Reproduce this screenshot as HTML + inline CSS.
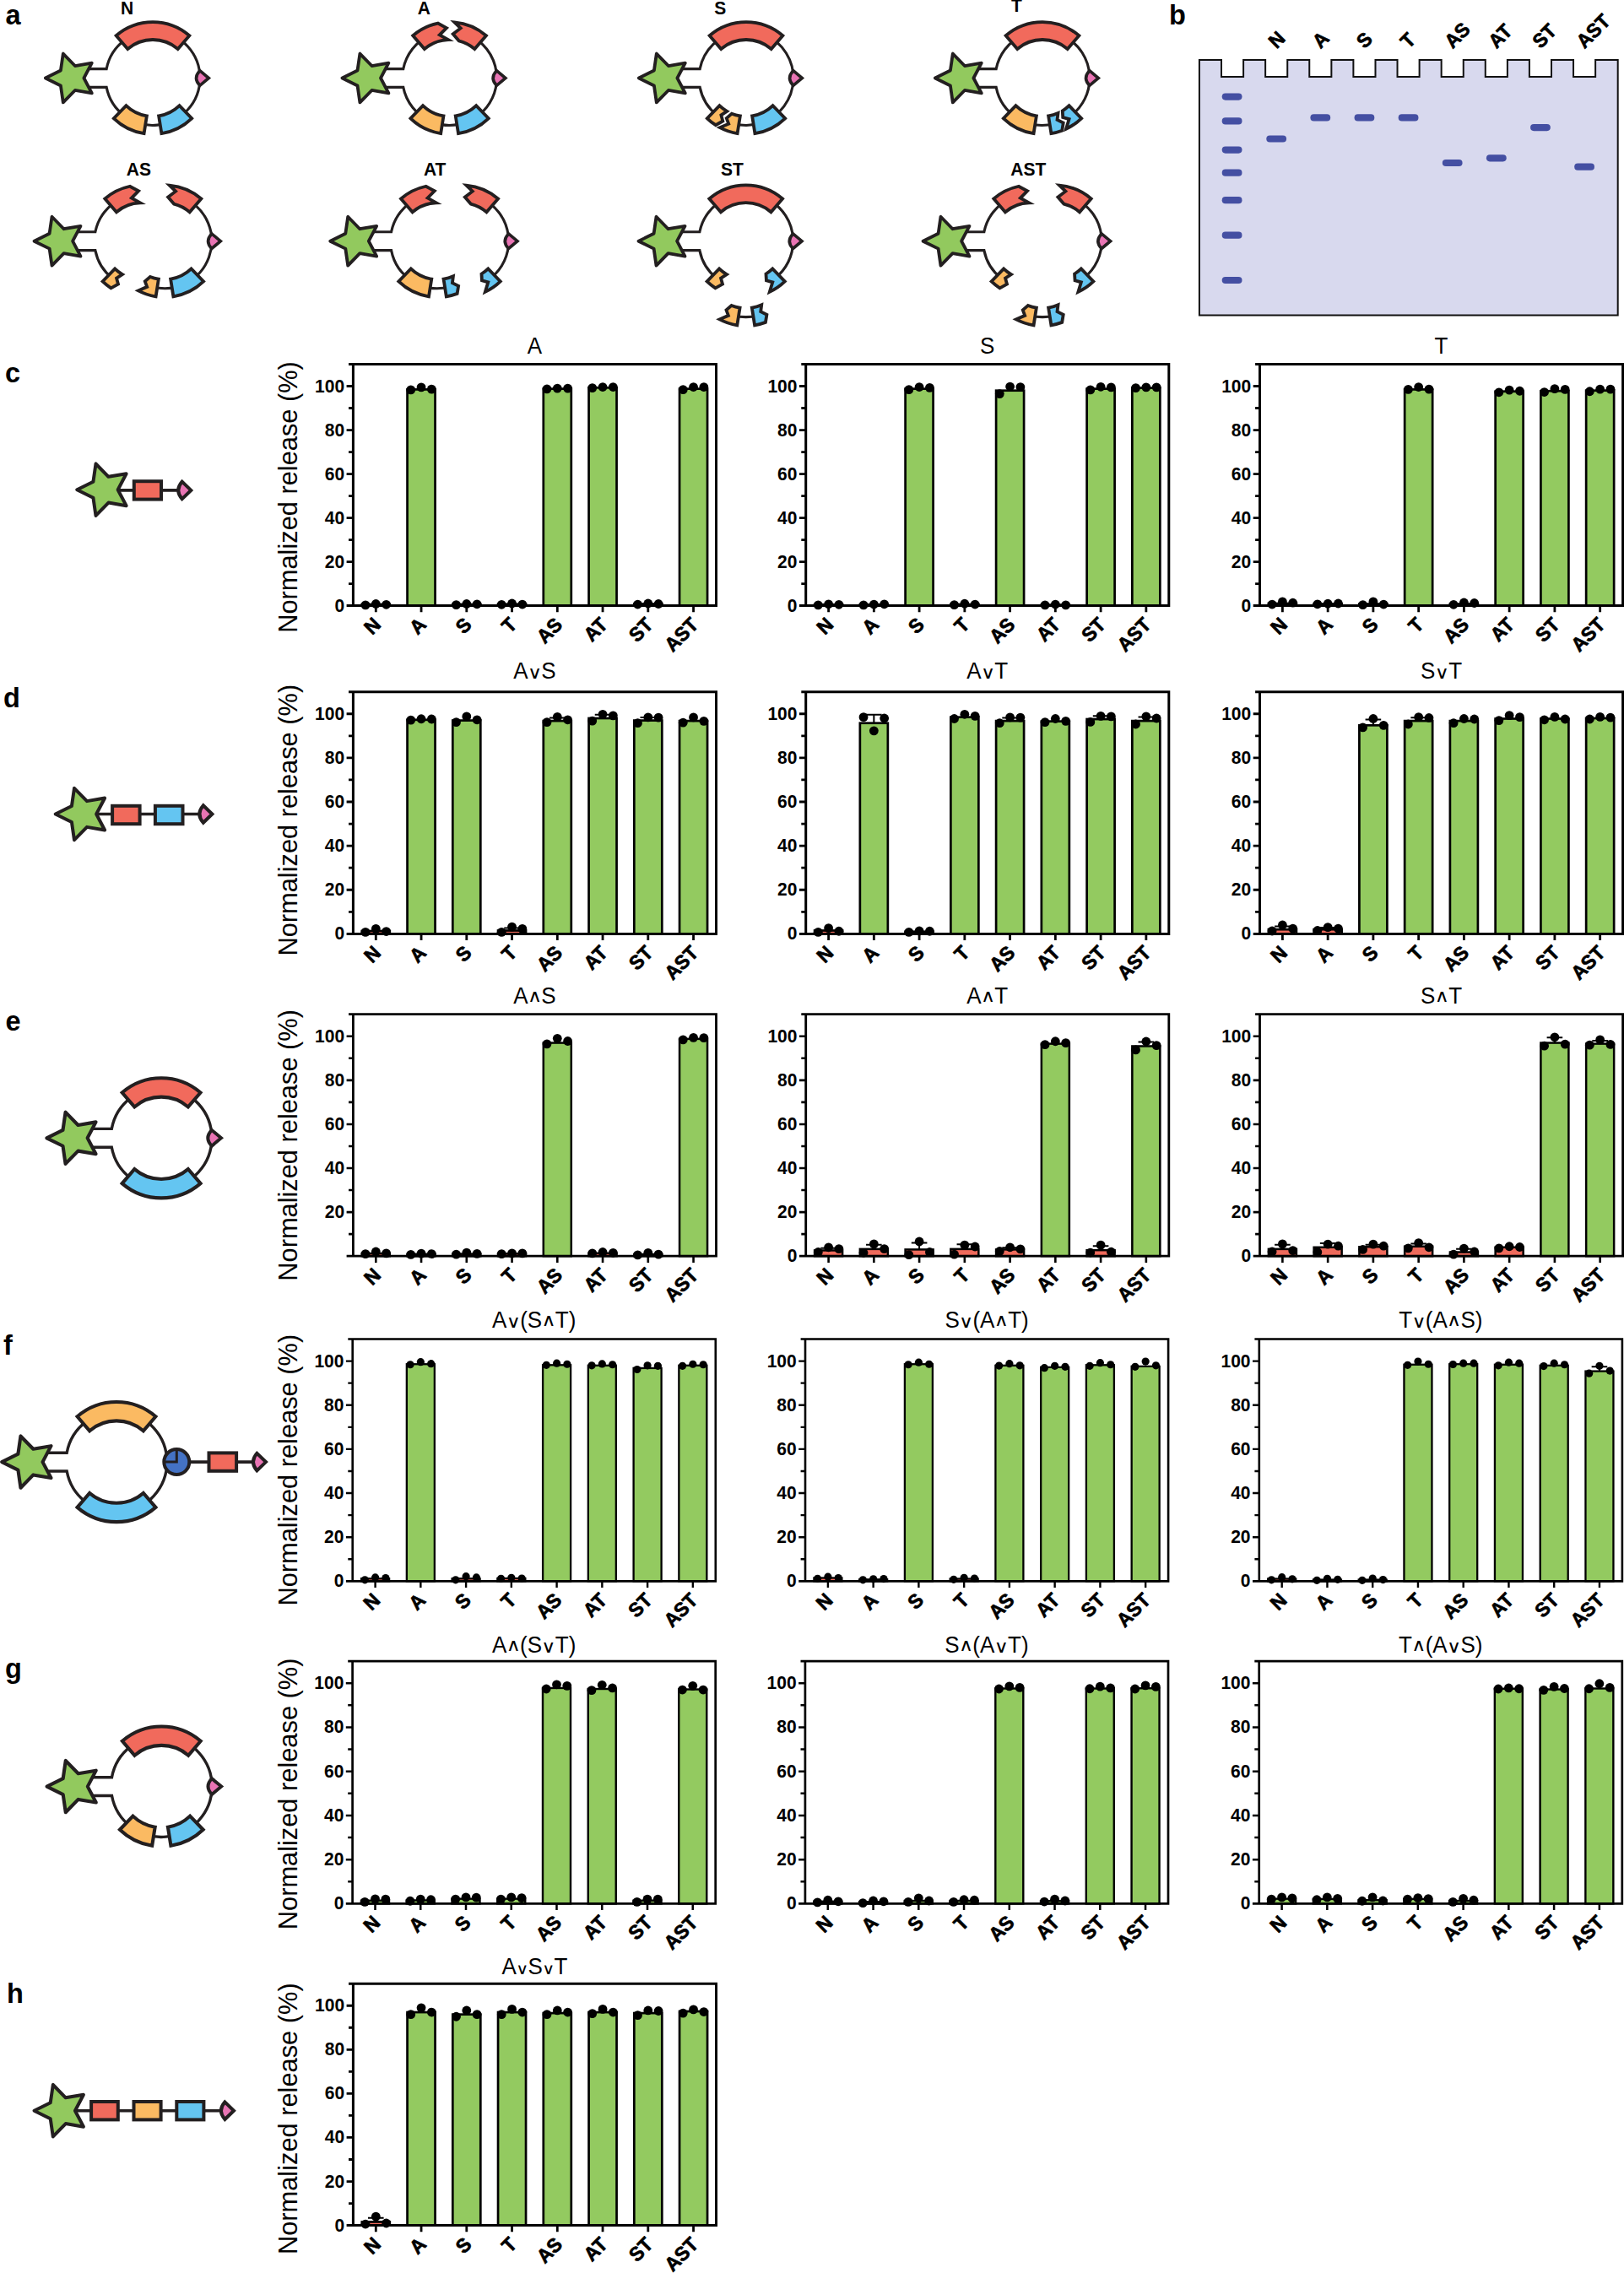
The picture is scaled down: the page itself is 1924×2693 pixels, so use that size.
<!DOCTYPE html>
<html lang="en"><head><meta charset="utf-8"><title>Figure</title>
<style>html,body{margin:0;padding:0;background:#fff}svg{display:block}</style></head>
<body>
<svg width="1924" height="2693" viewBox="0 0 1924 2693" font-family="Liberation Sans, Arial, Helvetica, sans-serif" fill="#000">
<path d="M105 81.6L126.17 81.6A55.9 55.9 0 0 1 236.9 92.5A55.9 55.9 0 0 1 126.17 103.4L105 103.4" fill="none" stroke="#231F20" stroke-width="3.1" stroke-linejoin="miter"/>
<path d="M137.61 42.24A66.4 66.4 0 0 1 224.39 42.24L210.73 58.06A45.5 45.5 0 0 0 151.27 58.06Z" fill="#F16A5C" stroke="#231F20" stroke-width="3.8" stroke-linejoin="miter" stroke-miterlimit="6"/>
<path d="M170.61 158.08A66.4 66.4 0 0 1 134.87 140.26L149.39 125.23A45.5 45.5 0 0 0 173.88 137.44Z" fill="#FBBA62" stroke="#231F20" stroke-width="3.8" stroke-linejoin="miter" stroke-miterlimit="6"/>
<path d="M227.13 140.26A66.4 66.4 0 0 1 191.39 158.08L188.12 137.44A45.5 45.5 0 0 0 212.61 125.23Z" fill="#64C5F1" stroke="#231F20" stroke-width="3.8" stroke-linejoin="miter" stroke-miterlimit="6"/>
<path d="M236.8 83.7Q228.4 92.5 236.8 101.3L247.3 92.5Z" fill="#E974B4" stroke="#231F20" stroke-width="3.61" stroke-linejoin="miter"/>
<polygon points="53.8,92.5 71.9,101.43 74.81,121.41 88.9,106.96 108.79,110.37 99.4,92.5 108.79,74.63 88.9,78.04 74.81,63.59 71.9,83.57" fill="#92C95E" stroke="#231F20" stroke-width="3.8" stroke-linejoin="round"/>
<path d="M456.6 81.6L477.77 81.6A55.9 55.9 0 0 1 508.98 41.84" fill="none" stroke="#231F20" stroke-width="3.1" stroke-linejoin="miter"/>
<path d="M556.22 41.84A55.9 55.9 0 0 1 567.11 136.48A55.9 55.9 0 0 1 477.77 103.4L456.6 103.4" fill="none" stroke="#231F20" stroke-width="3.1" stroke-linejoin="miter"/>
<path d="M489.21 42.24A66.4 66.4 0 0 1 518.79 27.55L528.97 33.11L520.79 41.35L531.01 47.03A45.5 45.5 0 0 0 502.87 58.06Z" fill="#F16A5C" stroke="#231F20" stroke-width="3.8" stroke-linejoin="miter" stroke-miterlimit="6"/>
<path d="M575.99 42.24A66.4 66.4 0 0 0 538.39 26.35L545.69 33.43L536.7 40.36L543.61 48.35A45.5 45.5 0 0 1 562.33 58.06Z" fill="#F16A5C" stroke="#231F20" stroke-width="3.8" stroke-linejoin="miter" stroke-miterlimit="6"/>
<path d="M522.21 158.08A66.4 66.4 0 0 1 486.47 140.26L500.99 125.23A45.5 45.5 0 0 0 525.48 137.44Z" fill="#FBBA62" stroke="#231F20" stroke-width="3.8" stroke-linejoin="miter" stroke-miterlimit="6"/>
<path d="M578.73 140.26A66.4 66.4 0 0 1 542.99 158.08L539.72 137.44A45.5 45.5 0 0 0 564.21 125.23Z" fill="#64C5F1" stroke="#231F20" stroke-width="3.8" stroke-linejoin="miter" stroke-miterlimit="6"/>
<path d="M588.4 83.7Q580 92.5 588.4 101.3L598.9 92.5Z" fill="#E974B4" stroke="#231F20" stroke-width="3.61" stroke-linejoin="miter"/>
<polygon points="405.4,92.5 423.5,101.43 426.41,121.41 440.5,106.96 460.39,110.37 451,92.5 460.39,74.63 440.5,78.04 426.41,63.59 423.5,83.57" fill="#92C95E" stroke="#231F20" stroke-width="3.8" stroke-linejoin="round"/>
<path d="M808 81.6L829.17 81.6A55.9 55.9 0 0 1 931.47 62.98A55.9 55.9 0 0 1 869.53 146.5" fill="none" stroke="#231F20" stroke-width="3.1" stroke-linejoin="miter"/>
<path d="M849.58 136.55A55.9 55.9 0 0 1 829.17 103.4L808 103.4" fill="none" stroke="#231F20" stroke-width="3.1" stroke-linejoin="miter"/>
<path d="M840.61 42.24A66.4 66.4 0 0 1 927.39 42.24L913.73 58.06A45.5 45.5 0 0 0 854.27 58.06Z" fill="#F16A5C" stroke="#231F20" stroke-width="3.8" stroke-linejoin="miter" stroke-miterlimit="6"/>
<path d="M837.87 140.26A66.4 66.4 0 0 0 847.84 148.19L856.32 143.47L854.36 136.44L861.25 131.9A45.5 45.5 0 0 1 852.39 125.23Z" fill="#FBBA62" stroke="#231F20" stroke-width="3.8" stroke-linejoin="miter" stroke-miterlimit="6"/>
<path d="M873.61 158.08A66.4 66.4 0 0 1 852.83 151.13L863.21 146.65L860.77 140.14L866.96 134.69A45.5 45.5 0 0 0 876.88 137.44Z" fill="#FBBA62" stroke="#231F20" stroke-width="3.8" stroke-linejoin="miter" stroke-miterlimit="6"/>
<path d="M930.13 140.26A66.4 66.4 0 0 1 894.39 158.08L891.12 137.44A45.5 45.5 0 0 0 915.61 125.23Z" fill="#64C5F1" stroke="#231F20" stroke-width="3.8" stroke-linejoin="miter" stroke-miterlimit="6"/>
<path d="M939.8 83.7Q931.4 92.5 939.8 101.3L950.3 92.5Z" fill="#E974B4" stroke="#231F20" stroke-width="3.61" stroke-linejoin="miter"/>
<polygon points="756.8,92.5 774.9,101.43 777.81,121.41 791.9,106.96 811.79,110.37 802.4,92.5 811.79,74.63 791.9,78.04 777.81,63.59 774.9,83.57" fill="#92C95E" stroke="#231F20" stroke-width="3.8" stroke-linejoin="round"/>
<path d="M1159 81.6L1180.17 81.6A55.9 55.9 0 0 1 1264.31 44.9A55.9 55.9 0 0 1 1269.42 136.55" fill="none" stroke="#231F20" stroke-width="3.1" stroke-linejoin="miter"/>
<path d="M1249.47 146.5A55.9 55.9 0 0 1 1180.17 103.4L1159 103.4" fill="none" stroke="#231F20" stroke-width="3.1" stroke-linejoin="miter"/>
<path d="M1191.61 42.24A66.4 66.4 0 0 1 1278.39 42.24L1264.73 58.06A45.5 45.5 0 0 0 1205.27 58.06Z" fill="#F16A5C" stroke="#231F20" stroke-width="3.8" stroke-linejoin="miter" stroke-miterlimit="6"/>
<path d="M1224.61 158.08A66.4 66.4 0 0 1 1188.87 140.26L1203.39 125.23A45.5 45.5 0 0 0 1227.88 137.44Z" fill="#FBBA62" stroke="#231F20" stroke-width="3.8" stroke-linejoin="miter" stroke-miterlimit="6"/>
<path d="M1245.39 158.08A66.4 66.4 0 0 0 1258.25 154.7L1259.72 145.52L1252.52 141.99L1253.51 134.07A45.5 45.5 0 0 1 1242.12 137.44Z" fill="#64C5F1" stroke="#231F20" stroke-width="3.8" stroke-linejoin="miter" stroke-miterlimit="6"/>
<path d="M1281.13 140.26A66.4 66.4 0 0 1 1263.06 152.68L1266.59 141.14L1259.24 139.07L1258.77 131.3A45.5 45.5 0 0 0 1266.61 125.23Z" fill="#64C5F1" stroke="#231F20" stroke-width="3.8" stroke-linejoin="miter" stroke-miterlimit="6"/>
<path d="M1290.8 83.7Q1282.4 92.5 1290.8 101.3L1301.3 92.5Z" fill="#E974B4" stroke="#231F20" stroke-width="3.61" stroke-linejoin="miter"/>
<polygon points="1107.8,92.5 1125.9,101.43 1128.81,121.41 1142.9,106.96 1162.79,110.37 1153.4,92.5 1162.79,74.63 1142.9,78.04 1128.81,63.59 1125.9,83.57" fill="#92C95E" stroke="#231F20" stroke-width="3.8" stroke-linejoin="round"/>
<path d="M91.7 274.8L112.87 274.8A55.9 55.9 0 0 1 144.08 235.04" fill="none" stroke="#231F20" stroke-width="3.1" stroke-linejoin="miter"/>
<path d="M218.62 235.04A55.9 55.9 0 0 1 180.53 339.7" fill="none" stroke="#231F20" stroke-width="3.1" stroke-linejoin="miter"/>
<path d="M133.28 329.75A55.9 55.9 0 0 1 112.87 296.6L91.7 296.6" fill="none" stroke="#231F20" stroke-width="3.1" stroke-linejoin="miter"/>
<path d="M124.31 235.44A66.4 66.4 0 0 1 153.89 220.75L164.07 226.31L155.89 234.55L166.11 240.23A45.5 45.5 0 0 0 137.97 251.26Z" fill="#F16A5C" stroke="#231F20" stroke-width="3.8" stroke-linejoin="miter" stroke-miterlimit="6"/>
<path d="M238.39 235.44A66.4 66.4 0 0 0 200.79 219.55L208.09 226.63L199.1 233.56L206.01 241.55A45.5 45.5 0 0 1 224.73 251.26Z" fill="#F16A5C" stroke="#231F20" stroke-width="3.8" stroke-linejoin="miter" stroke-miterlimit="6"/>
<path d="M121.57 333.46A66.4 66.4 0 0 0 131.54 341.39L140.02 336.67L138.06 329.64L144.95 325.1A45.5 45.5 0 0 1 136.09 318.43Z" fill="#FBBA62" stroke="#231F20" stroke-width="3.8" stroke-linejoin="miter" stroke-miterlimit="6"/>
<path d="M184.61 351.28A66.4 66.4 0 0 1 163.83 344.33L174.21 339.85L171.77 333.34L177.96 327.89A45.5 45.5 0 0 0 187.88 330.64Z" fill="#FBBA62" stroke="#231F20" stroke-width="3.8" stroke-linejoin="miter" stroke-miterlimit="6"/>
<path d="M241.13 333.46A66.4 66.4 0 0 1 205.39 351.28L202.12 330.64A45.5 45.5 0 0 0 226.61 318.43Z" fill="#64C5F1" stroke="#231F20" stroke-width="3.8" stroke-linejoin="miter" stroke-miterlimit="6"/>
<path d="M250.8 276.9Q242.4 285.7 250.8 294.5L261.3 285.7Z" fill="#E974B4" stroke="#231F20" stroke-width="3.61" stroke-linejoin="miter"/>
<polygon points="40.5,285.7 58.6,294.63 61.51,314.61 75.6,300.16 95.49,303.57 86.1,285.7 95.49,267.83 75.6,271.24 61.51,256.79 58.6,276.77" fill="#92C95E" stroke="#231F20" stroke-width="3.8" stroke-linejoin="round"/>
<path d="M442.4 274.8L463.57 274.8A55.9 55.9 0 0 1 494.78 235.04" fill="none" stroke="#231F20" stroke-width="3.1" stroke-linejoin="miter"/>
<path d="M570.32 235.04A55.9 55.9 0 0 1 581.12 329.75" fill="none" stroke="#231F20" stroke-width="3.1" stroke-linejoin="miter"/>
<path d="M532.87 339.7A55.9 55.9 0 0 1 463.57 296.6L442.4 296.6" fill="none" stroke="#231F20" stroke-width="3.1" stroke-linejoin="miter"/>
<path d="M475.01 235.44A66.4 66.4 0 0 1 504.59 220.75L514.77 226.31L506.59 234.55L516.81 240.23A45.5 45.5 0 0 0 488.67 251.26Z" fill="#F16A5C" stroke="#231F20" stroke-width="3.8" stroke-linejoin="miter" stroke-miterlimit="6"/>
<path d="M590.09 235.44A66.4 66.4 0 0 0 552.49 219.55L559.79 226.63L550.8 233.56L557.71 241.55A45.5 45.5 0 0 1 576.43 251.26Z" fill="#F16A5C" stroke="#231F20" stroke-width="3.8" stroke-linejoin="miter" stroke-miterlimit="6"/>
<path d="M508.01 351.28A66.4 66.4 0 0 1 472.27 333.46L486.79 318.43A45.5 45.5 0 0 0 511.28 330.64Z" fill="#FBBA62" stroke="#231F20" stroke-width="3.8" stroke-linejoin="miter" stroke-miterlimit="6"/>
<path d="M528.79 351.28A66.4 66.4 0 0 0 541.65 347.9L543.12 338.72L535.92 335.19L536.91 327.27A45.5 45.5 0 0 1 525.52 330.64Z" fill="#64C5F1" stroke="#231F20" stroke-width="3.8" stroke-linejoin="miter" stroke-miterlimit="6"/>
<path d="M592.83 333.46A66.4 66.4 0 0 1 574.76 345.88L578.29 334.34L570.94 332.27L570.47 324.5A45.5 45.5 0 0 0 578.31 318.43Z" fill="#64C5F1" stroke="#231F20" stroke-width="3.8" stroke-linejoin="miter" stroke-miterlimit="6"/>
<path d="M602.5 276.9Q594.1 285.7 602.5 294.5L613 285.7Z" fill="#E974B4" stroke="#231F20" stroke-width="3.61" stroke-linejoin="miter"/>
<polygon points="391.2,285.7 409.3,294.63 412.21,314.61 426.3,300.16 446.19,303.57 436.8,285.7 446.19,267.83 426.3,271.24 412.21,256.79 409.3,276.77" fill="#92C95E" stroke="#231F20" stroke-width="3.8" stroke-linejoin="round"/>
<path d="M807.7 274.8L828.87 274.8A55.9 55.9 0 0 1 913.01 238.1A55.9 55.9 0 0 1 918.12 329.75" fill="none" stroke="#231F20" stroke-width="3.1" stroke-linejoin="miter"/>
<path d="M849.28 329.75A55.9 55.9 0 0 1 828.87 296.6L807.7 296.6" fill="none" stroke="#231F20" stroke-width="3.1" stroke-linejoin="miter"/>
<path d="M898.17 373.7A55.9 55.9 0 0 1 869.23 373.7" fill="none" stroke="#231F20" stroke-width="3.1" stroke-linejoin="miter"/>
<path d="M840.31 235.44A66.4 66.4 0 0 1 927.09 235.44L913.43 251.26A45.5 45.5 0 0 0 853.97 251.26Z" fill="#F16A5C" stroke="#231F20" stroke-width="3.8" stroke-linejoin="miter" stroke-miterlimit="6"/>
<path d="M837.57 333.46A66.4 66.4 0 0 0 847.54 341.39L856.02 336.67L854.06 329.64L860.95 325.1A45.5 45.5 0 0 1 852.09 318.43Z" fill="#FBBA62" stroke="#231F20" stroke-width="3.8" stroke-linejoin="miter" stroke-miterlimit="6"/>
<path d="M929.83 333.46A66.4 66.4 0 0 1 911.76 345.88L915.29 334.34L907.94 332.27L907.47 324.5A45.5 45.5 0 0 0 915.31 318.43Z" fill="#64C5F1" stroke="#231F20" stroke-width="3.8" stroke-linejoin="miter" stroke-miterlimit="6"/>
<path d="M873.31 385.28A66.4 66.4 0 0 1 852.53 378.33L862.91 373.85L860.47 367.34L866.66 361.89A45.5 45.5 0 0 0 876.58 364.64Z" fill="#FBBA62" stroke="#231F20" stroke-width="3.8" stroke-linejoin="miter" stroke-miterlimit="6"/>
<path d="M894.09 385.28A66.4 66.4 0 0 0 906.95 381.9L908.42 372.72L901.22 369.19L902.21 361.27A45.5 45.5 0 0 1 890.82 364.64Z" fill="#64C5F1" stroke="#231F20" stroke-width="3.8" stroke-linejoin="miter" stroke-miterlimit="6"/>
<path d="M939.5 276.9Q931.1 285.7 939.5 294.5L950 285.7Z" fill="#E974B4" stroke="#231F20" stroke-width="3.61" stroke-linejoin="miter"/>
<polygon points="756.5,285.7 774.6,294.63 777.51,314.61 791.6,300.16 811.49,303.57 802.1,285.7 811.49,267.83 791.6,271.24 777.51,256.79 774.6,276.77" fill="#92C95E" stroke="#231F20" stroke-width="3.8" stroke-linejoin="round"/>
<path d="M1144.7 274.8L1165.87 274.8A55.9 55.9 0 0 1 1197.08 235.04" fill="none" stroke="#231F20" stroke-width="3.1" stroke-linejoin="miter"/>
<path d="M1272.92 235.04A55.9 55.9 0 0 1 1283.72 329.75" fill="none" stroke="#231F20" stroke-width="3.1" stroke-linejoin="miter"/>
<path d="M1186.28 329.75A55.9 55.9 0 0 1 1165.87 296.6L1144.7 296.6" fill="none" stroke="#231F20" stroke-width="3.1" stroke-linejoin="miter"/>
<path d="M1249.47 373.7A55.9 55.9 0 0 1 1220.53 373.7" fill="none" stroke="#231F20" stroke-width="3.1" stroke-linejoin="miter"/>
<path d="M1177.31 235.44A66.4 66.4 0 0 1 1206.89 220.75L1217.07 226.31L1208.89 234.55L1219.11 240.23A45.5 45.5 0 0 0 1190.97 251.26Z" fill="#F16A5C" stroke="#231F20" stroke-width="3.8" stroke-linejoin="miter" stroke-miterlimit="6"/>
<path d="M1292.69 235.44A66.4 66.4 0 0 0 1255.09 219.55L1262.39 226.63L1253.4 233.56L1260.31 241.55A45.5 45.5 0 0 1 1279.03 251.26Z" fill="#F16A5C" stroke="#231F20" stroke-width="3.8" stroke-linejoin="miter" stroke-miterlimit="6"/>
<path d="M1174.57 333.46A66.4 66.4 0 0 0 1184.54 341.39L1193.02 336.67L1191.06 329.64L1197.95 325.1A45.5 45.5 0 0 1 1189.09 318.43Z" fill="#FBBA62" stroke="#231F20" stroke-width="3.8" stroke-linejoin="miter" stroke-miterlimit="6"/>
<path d="M1295.43 333.46A66.4 66.4 0 0 1 1277.36 345.88L1280.89 334.34L1273.54 332.27L1273.07 324.5A45.5 45.5 0 0 0 1280.91 318.43Z" fill="#64C5F1" stroke="#231F20" stroke-width="3.8" stroke-linejoin="miter" stroke-miterlimit="6"/>
<path d="M1224.61 385.28A66.4 66.4 0 0 1 1203.83 378.33L1214.21 373.85L1211.77 367.34L1217.96 361.89A45.5 45.5 0 0 0 1227.88 364.64Z" fill="#FBBA62" stroke="#231F20" stroke-width="3.8" stroke-linejoin="miter" stroke-miterlimit="6"/>
<path d="M1245.39 385.28A66.4 66.4 0 0 0 1258.25 381.9L1259.72 372.72L1252.52 369.19L1253.51 361.27A45.5 45.5 0 0 1 1242.12 364.64Z" fill="#64C5F1" stroke="#231F20" stroke-width="3.8" stroke-linejoin="miter" stroke-miterlimit="6"/>
<path d="M1305.1 276.9Q1296.7 285.7 1305.1 294.5L1315.6 285.7Z" fill="#E974B4" stroke="#231F20" stroke-width="3.61" stroke-linejoin="miter"/>
<polygon points="1093.5,285.7 1111.6,294.63 1114.51,314.61 1128.6,300.16 1148.49,303.57 1139.1,285.7 1148.49,267.83 1128.6,271.24 1114.51,256.79 1111.6,276.77" fill="#92C95E" stroke="#231F20" stroke-width="3.8" stroke-linejoin="round"/>
<text font-size="21" font-weight="bold" text-anchor="middle" transform="translate(150.7 16.5) scale(1 1.04)">N</text>
<text font-size="21" font-weight="bold" text-anchor="middle" transform="translate(502.3 16.5) scale(1 1.04)">A</text>
<text font-size="21" font-weight="bold" text-anchor="middle" transform="translate(853.3 16.5) scale(1 1.04)">S</text>
<text font-size="21" font-weight="bold" text-anchor="middle" transform="translate(1204.4 14.2) scale(1 1.04)">T</text>
<text font-size="21" font-weight="bold" text-anchor="middle" transform="translate(164.4 207.6) scale(1 1.04)">AS</text>
<text font-size="21" font-weight="bold" text-anchor="middle" transform="translate(515.2 207.6) scale(1 1.04)">AT</text>
<text font-size="21" font-weight="bold" text-anchor="middle" transform="translate(867.4 207.6) scale(1 1.04)">ST</text>
<text font-size="21" font-weight="bold" text-anchor="middle" transform="translate(1218.3 207.8) scale(1 1.04)">AST</text>
<text font-size="32.5" font-weight="bold" text-anchor="start" transform="translate(6.5 29.2) scale(1 1.04)">a</text>
<text font-size="32.5" font-weight="bold" text-anchor="start" transform="translate(1385 28.5) scale(1 1.04)">b</text>
<text font-size="32.5" font-weight="bold" text-anchor="start" transform="translate(6 453.2) scale(1 1.04)">c</text>
<text font-size="32.5" font-weight="bold" text-anchor="start" transform="translate(4 837.6) scale(1 1.04)">d</text>
<text font-size="32.5" font-weight="bold" text-anchor="start" transform="translate(6.5 1220.9) scale(1 1.04)">e</text>
<text font-size="32.5" font-weight="bold" text-anchor="start" transform="translate(4 1605) scale(1 1.04)">f</text>
<text font-size="32.5" font-weight="bold" text-anchor="start" transform="translate(6 1987.6) scale(1 1.04)">g</text>
<text font-size="32.5" font-weight="bold" text-anchor="start" transform="translate(8 2372.7) scale(1 1.04)">h</text>
<path d="M1420.9 71H1447V91.1H1473.1V71H1499.13V91.1H1525.23V71H1551.26V91.1H1577.36V71H1603.39V91.1H1629.49V71H1655.52V91.1H1681.62V71H1707.65V91.1H1733.75V71H1759.78V91.1H1785.88V71H1811.91V91.1H1838.01V71H1864.04V91.1H1890.14V71H1916.7V373.5H1420.9Z" fill="#D8D9EE" stroke="#111" stroke-width="2" stroke-linejoin="miter"/>
<rect x="1447.7" y="110.5" width="23.8" height="8.2" rx="4.1" fill="#444FA2"/>
<rect x="1447.7" y="139.3" width="23.8" height="8.2" rx="4.1" fill="#444FA2"/>
<rect x="1447.7" y="173.5" width="23.8" height="8.2" rx="4.1" fill="#444FA2"/>
<rect x="1447.7" y="200.6" width="23.8" height="8.2" rx="4.1" fill="#444FA2"/>
<rect x="1447.7" y="233.1" width="23.8" height="8.2" rx="4.1" fill="#444FA2"/>
<rect x="1447.7" y="274.6" width="23.8" height="8.2" rx="4.1" fill="#444FA2"/>
<rect x="1447.7" y="327.9" width="23.8" height="8.2" rx="4.1" fill="#444FA2"/>
<rect x="1500.28" y="160.4" width="23.8" height="8.2" rx="4.1" fill="#444FA2"/>
<text font-size="22.5" font-weight="bold" text-anchor="start" transform="translate(1512.38 58.4) rotate(-45) scale(1 1.04)" stroke="#000" stroke-width="0.7" stroke-linejoin="round">N</text>
<rect x="1552.41" y="135.3" width="23.8" height="8.2" rx="4.1" fill="#444FA2"/>
<text font-size="22.5" font-weight="bold" text-anchor="start" transform="translate(1564.51 58.4) rotate(-45) scale(1 1.04)" stroke="#000" stroke-width="0.7" stroke-linejoin="round">A</text>
<rect x="1604.54" y="135.3" width="23.8" height="8.2" rx="4.1" fill="#444FA2"/>
<text font-size="22.5" font-weight="bold" text-anchor="start" transform="translate(1616.64 58.4) rotate(-45) scale(1 1.04)" stroke="#000" stroke-width="0.7" stroke-linejoin="round">S</text>
<rect x="1656.67" y="135.3" width="23.8" height="8.2" rx="4.1" fill="#444FA2"/>
<text font-size="22.5" font-weight="bold" text-anchor="start" transform="translate(1668.77 58.4) rotate(-45) scale(1 1.04)" stroke="#000" stroke-width="0.7" stroke-linejoin="round">T</text>
<rect x="1708.8" y="188.9" width="23.8" height="8.2" rx="4.1" fill="#444FA2"/>
<text font-size="22.5" font-weight="bold" text-anchor="start" transform="translate(1720.9 58.4) rotate(-45) scale(1 1.04)" stroke="#000" stroke-width="0.7" stroke-linejoin="round">AS</text>
<rect x="1760.93" y="183.2" width="23.8" height="8.2" rx="4.1" fill="#444FA2"/>
<text font-size="22.5" font-weight="bold" text-anchor="start" transform="translate(1773.03 58.4) rotate(-45) scale(1 1.04)" stroke="#000" stroke-width="0.7" stroke-linejoin="round">AT</text>
<rect x="1813.06" y="147" width="23.8" height="8.2" rx="4.1" fill="#444FA2"/>
<text font-size="22.5" font-weight="bold" text-anchor="start" transform="translate(1825.16 58.4) rotate(-45) scale(1 1.04)" stroke="#000" stroke-width="0.7" stroke-linejoin="round">ST</text>
<rect x="1865.19" y="193.6" width="23.8" height="8.2" rx="4.1" fill="#444FA2"/>
<text font-size="22.5" font-weight="bold" text-anchor="start" transform="translate(1877.29 58.4) rotate(-45) scale(1 1.04)" stroke="#000" stroke-width="0.7" stroke-linejoin="round">AST</text>
<line x1="135" y1="580.9" x2="212" y2="580.9" stroke="#231F20" stroke-width="3.6"/>
<rect x="158.8" y="570.2" width="32.2" height="21.4" fill="#F16A5C" stroke="#231F20" stroke-width="4"/>
<path d="M215.7 570.6Q206.8 580.9 215.7 591.2L226.3 580.9Z" fill="#E974B4" stroke="#231F20" stroke-width="4" stroke-linejoin="miter"/>
<polygon points="91.2,580.2 110.43,589.69 113.52,610.92 128.49,595.56 149.63,599.19 139.65,580.2 149.63,561.21 128.49,564.84 113.52,549.48 110.43,570.71" fill="#92C95E" stroke="#231F20" stroke-width="4" stroke-linejoin="round"/>
<line x1="110" y1="964.5" x2="238" y2="964.5" stroke="#231F20" stroke-width="3.6"/>
<rect x="133.1" y="954.8" width="32.5" height="21.4" fill="#F16A5C" stroke="#231F20" stroke-width="4"/>
<rect x="183.9" y="954.8" width="32.6" height="21.4" fill="#64C5F1" stroke="#231F20" stroke-width="4"/>
<path d="M240.8 954.2Q231.9 964.5 240.8 974.8L251.4 964.5Z" fill="#E974B4" stroke="#231F20" stroke-width="4" stroke-linejoin="miter"/>
<polygon points="65.7,964.5 84.93,973.99 88.02,995.22 102.99,979.86 124.13,983.49 114.15,964.5 124.13,945.51 102.99,949.14 88.02,933.78 84.93,955.01" fill="#92C95E" stroke="#231F20" stroke-width="4" stroke-linejoin="round"/>
<line x1="85" y1="2500.7" x2="264" y2="2500.7" stroke="#231F20" stroke-width="3.6"/>
<rect x="108.1" y="2490" width="31.7" height="21.4" fill="#F16A5C" stroke="#231F20" stroke-width="4"/>
<rect x="158.5" y="2490" width="32.1" height="21.4" fill="#FBBA62" stroke="#231F20" stroke-width="4"/>
<rect x="209.3" y="2490" width="32.1" height="21.4" fill="#64C5F1" stroke="#231F20" stroke-width="4"/>
<path d="M266.4 2490.4Q257.5 2500.7 266.4 2511L277 2500.7Z" fill="#E974B4" stroke="#231F20" stroke-width="4" stroke-linejoin="miter"/>
<polygon points="40.5,2500.7 59.73,2510.19 62.82,2531.42 77.79,2516.06 98.93,2519.69 88.95,2500.7 98.93,2481.71 77.79,2485.34 62.82,2469.98 59.73,2491.21" fill="#92C95E" stroke="#231F20" stroke-width="4" stroke-linejoin="round"/>
<path d="M109.78 1337.4L132.29 1337.4A59.81 59.81 0 0 1 250.91 1348.3A59.81 59.81 0 0 1 132.29 1359.2L109.78 1359.2" fill="none" stroke="#231F20" stroke-width="3.4" stroke-linejoin="miter"/>
<path d="M144.68 1294.52A71.05 71.05 0 0 1 237.52 1294.52L222.91 1311.45A48.69 48.69 0 0 0 159.29 1311.45Z" fill="#F16A5C" stroke="#231F20" stroke-width="4.1" stroke-linejoin="miter" stroke-miterlimit="6"/>
<path d="M237.52 1402.08A71.05 71.05 0 0 1 144.68 1402.08L159.29 1385.15A48.69 48.69 0 0 0 222.91 1385.15Z" fill="#64C5F1" stroke="#231F20" stroke-width="4.1" stroke-linejoin="miter" stroke-miterlimit="6"/>
<path d="M250.81 1338.88Q241.82 1348.3 250.81 1357.72L262.04 1348.3Z" fill="#E974B4" stroke="#231F20" stroke-width="3.89" stroke-linejoin="miter"/>
<polygon points="55.32,1348.3 74.5,1357.76 77.57,1378.92 92.5,1363.61 113.57,1367.23 103.62,1348.3 113.57,1329.37 92.5,1332.99 77.57,1317.68 74.5,1338.84" fill="#92C95E" stroke="#231F20" stroke-width="4.1" stroke-linejoin="round"/>
<path d="M109.98 2105.7L132.49 2105.7A59.81 59.81 0 0 1 251.11 2116.6A59.81 59.81 0 0 1 132.49 2127.5L109.98 2127.5" fill="none" stroke="#231F20" stroke-width="3.4" stroke-linejoin="miter"/>
<path d="M144.88 2062.82A71.05 71.05 0 0 1 237.72 2062.82L223.11 2079.75A48.69 48.69 0 0 0 159.49 2079.75Z" fill="#F16A5C" stroke="#231F20" stroke-width="4.1" stroke-linejoin="miter" stroke-miterlimit="6"/>
<path d="M180.19 2186.77A71.05 71.05 0 0 1 141.95 2167.71L157.48 2151.62A48.69 48.69 0 0 0 183.68 2164.69Z" fill="#FBBA62" stroke="#231F20" stroke-width="4.1" stroke-linejoin="miter" stroke-miterlimit="6"/>
<path d="M240.65 2167.71A71.05 71.05 0 0 1 202.41 2186.77L198.92 2164.69A48.69 48.69 0 0 0 225.12 2151.62Z" fill="#64C5F1" stroke="#231F20" stroke-width="4.1" stroke-linejoin="miter" stroke-miterlimit="6"/>
<path d="M251.01 2107.18Q242.02 2116.6 251.01 2126.02L262.24 2116.6Z" fill="#E974B4" stroke="#231F20" stroke-width="3.89" stroke-linejoin="miter"/>
<polygon points="55.52,2116.6 74.7,2126.06 77.77,2147.22 92.7,2131.91 113.77,2135.53 103.82,2116.6 113.77,2097.67 92.7,2101.29 77.77,2085.98 74.7,2107.14" fill="#92C95E" stroke="#231F20" stroke-width="4.1" stroke-linejoin="round"/>
<path d="M56.68 1721.2L79.19 1721.2A59.81 59.81 0 0 1 197.81 1732.1A59.81 59.81 0 0 1 79.19 1743L56.68 1743" fill="none" stroke="#231F20" stroke-width="3.4" stroke-linejoin="miter"/>
<path d="M91.58 1678.32A71.05 71.05 0 0 1 184.42 1678.32L169.81 1695.25A48.69 48.69 0 0 0 106.19 1695.25Z" fill="#FBBA62" stroke="#231F20" stroke-width="4.1" stroke-linejoin="miter" stroke-miterlimit="6"/>
<path d="M184.42 1785.88A71.05 71.05 0 0 1 91.58 1785.88L106.19 1768.95A48.69 48.69 0 0 0 169.81 1768.95Z" fill="#64C5F1" stroke="#231F20" stroke-width="4.1" stroke-linejoin="miter" stroke-miterlimit="6"/>
<polygon points="2.22,1732.1 21.4,1741.56 24.47,1762.72 39.4,1747.41 60.47,1751.03 50.52,1732.1 60.47,1713.17 39.4,1716.79 24.47,1701.48 21.4,1722.64" fill="#92C95E" stroke="#231F20" stroke-width="4.1" stroke-linejoin="round"/>
<line x1="224" y1="1732.1" x2="300" y2="1732.1" stroke="#231F20" stroke-width="3.6"/>
<circle cx="209.3" cy="1732.1" r="15" fill="#4472C4" stroke="#231F20" stroke-width="4"/>
<path d="M209.3 1718.1V1732.1H195.5" fill="none" stroke="#231F20" stroke-width="3"/>
<rect x="247.5" y="1721.4" width="32.6" height="21.4" fill="#F16A5C" stroke="#231F20" stroke-width="4"/>
<path d="M304.4 1721.8Q295.5 1732.1 304.4 1742.4L315 1732.1Z" fill="#E974B4" stroke="#231F20" stroke-width="4" stroke-linejoin="miter"/>
<rect x="428.8" y="716.04" width="33" height="1.56" fill="#EE6A5B" stroke="#000" stroke-width="2.7"/>
<rect x="482.55" y="461.41" width="33" height="256.19" fill="#93CA60" stroke="#000" stroke-width="2.7"/>
<rect x="536.3" y="716.04" width="33" height="1.56" fill="#EE6A5B" stroke="#000" stroke-width="2.7"/>
<rect x="590.05" y="715.78" width="33" height="1.82" fill="#EE6A5B" stroke="#000" stroke-width="2.7"/>
<rect x="643.8" y="460.63" width="33" height="256.97" fill="#93CA60" stroke="#000" stroke-width="2.7"/>
<rect x="697.55" y="459.33" width="33" height="258.27" fill="#93CA60" stroke="#000" stroke-width="2.7"/>
<rect x="751.3" y="715.52" width="33" height="2.08" fill="#EE6A5B" stroke="#000" stroke-width="2.7"/>
<rect x="805.05" y="460.63" width="33" height="256.97" fill="#93CA60" stroke="#000" stroke-width="2.7"/>
<path d="M413 431.5H848.5V717.6H410.6M418.4 430V719.1" fill="none" stroke="#000" stroke-width="3" stroke-linecap="butt"/>
<path d="M413 691.59H418.4M410.6 665.58H418.4M413 639.57H418.4M410.6 613.56H418.4M413 587.55H418.4M410.6 561.55H418.4M413 535.54H418.4M410.6 509.53H418.4M413 483.52H418.4M410.6 457.51H418.4M445.3 717.6V725.3M499.05 717.6V725.3M552.8 717.6V725.3M606.55 717.6V725.3M660.3 717.6V725.3M714.05 717.6V725.3M767.8 717.6V725.3M821.55 717.6V725.3" fill="none" stroke="#000" stroke-width="2.8"/>
<circle cx="433" cy="716.82" r="5.4"/>
<circle cx="445.3" cy="715.52" r="5.4"/>
<circle cx="457.6" cy="716.3" r="5.4"/>
<circle cx="486.75" cy="461.93" r="5.4"/>
<circle cx="499.05" cy="458.81" r="5.4"/>
<circle cx="511.35" cy="461.15" r="5.4"/>
<circle cx="540.5" cy="716.56" r="5.4"/>
<circle cx="552.8" cy="715.52" r="5.4"/>
<circle cx="565.1" cy="715.78" r="5.4"/>
<circle cx="594.25" cy="716.3" r="5.4"/>
<circle cx="606.55" cy="715" r="5.4"/>
<circle cx="618.85" cy="716.04" r="5.4"/>
<circle cx="648" cy="460.89" r="5.4"/>
<circle cx="660.3" cy="460.11" r="5.4"/>
<circle cx="672.6" cy="460.11" r="5.4"/>
<circle cx="701.75" cy="459.59" r="5.4"/>
<circle cx="714.05" cy="458.55" r="5.4"/>
<circle cx="726.35" cy="458.55" r="5.4"/>
<circle cx="755.5" cy="716.04" r="5.4"/>
<circle cx="767.8" cy="715" r="5.4"/>
<circle cx="780.1" cy="715.52" r="5.4"/>
<circle cx="809.25" cy="461.67" r="5.4"/>
<circle cx="821.55" cy="458.55" r="5.4"/>
<circle cx="833.85" cy="458.55" r="5.4"/>
<text font-size="21" font-weight="bold" text-anchor="end" transform="translate(408.1 724.6) scale(1 1.04)">0</text>
<text font-size="21" font-weight="bold" text-anchor="end" transform="translate(408.1 672.58) scale(1 1.04)">20</text>
<text font-size="21" font-weight="bold" text-anchor="end" transform="translate(408.1 620.56) scale(1 1.04)">40</text>
<text font-size="21" font-weight="bold" text-anchor="end" transform="translate(408.1 568.55) scale(1 1.04)">60</text>
<text font-size="21" font-weight="bold" text-anchor="end" transform="translate(408.1 516.53) scale(1 1.04)">80</text>
<text font-size="21" font-weight="bold" text-anchor="end" transform="translate(408.1 464.51) scale(1 1.04)">100</text>
<text font-size="22.5" font-weight="bold" text-anchor="end" transform="translate(452.5 741.6) rotate(-45) scale(1 1.04)" stroke="#000" stroke-width="0.7" stroke-linejoin="round">N</text>
<text font-size="22.5" font-weight="bold" text-anchor="end" transform="translate(506.25 741.6) rotate(-45) scale(1 1.04)" stroke="#000" stroke-width="0.7" stroke-linejoin="round">A</text>
<text font-size="22.5" font-weight="bold" text-anchor="end" transform="translate(560 741.6) rotate(-45) scale(1 1.04)" stroke="#000" stroke-width="0.7" stroke-linejoin="round">S</text>
<text font-size="22.5" font-weight="bold" text-anchor="end" transform="translate(613.75 741.6) rotate(-45) scale(1 1.04)" stroke="#000" stroke-width="0.7" stroke-linejoin="round">T</text>
<text font-size="22.5" font-weight="bold" text-anchor="end" transform="translate(667.5 741.6) rotate(-45) scale(1 1.04)" stroke="#000" stroke-width="0.7" stroke-linejoin="round">AS</text>
<text font-size="22.5" font-weight="bold" text-anchor="end" transform="translate(721.25 741.6) rotate(-45) scale(1 1.04)" stroke="#000" stroke-width="0.7" stroke-linejoin="round">AT</text>
<text font-size="22.5" font-weight="bold" text-anchor="end" transform="translate(775 741.6) rotate(-45) scale(1 1.04)" stroke="#000" stroke-width="0.7" stroke-linejoin="round">ST</text>
<text font-size="22.5" font-weight="bold" text-anchor="end" transform="translate(828.75 741.6) rotate(-45) scale(1 1.04)" stroke="#000" stroke-width="0.7" stroke-linejoin="round">AST</text>
<text font-size="26" font-weight="normal" text-anchor="middle" transform="translate(633.45 418.8) scale(1 1.04)">A</text>
<text font-size="30.8" font-weight="normal" text-anchor="start" transform="translate(352.4 749.8) rotate(-90) scale(1 1.04)">Normalized release (%)</text>
<rect x="965.1" y="716.3" width="33" height="1.3" fill="#EE6A5B" stroke="#000" stroke-width="2.7"/>
<rect x="1018.85" y="716.3" width="33" height="1.3" fill="#EE6A5B" stroke="#000" stroke-width="2.7"/>
<rect x="1072.6" y="460.63" width="33" height="256.97" fill="#93CA60" stroke="#000" stroke-width="2.7"/>
<rect x="1126.35" y="716.04" width="33" height="1.56" fill="#EE6A5B" stroke="#000" stroke-width="2.7"/>
<rect x="1180.1" y="462.71" width="33" height="254.89" fill="#93CA60" stroke="#000" stroke-width="2.7"/>
<rect x="1233.85" y="716.56" width="33" height="1.04" fill="#EE6A5B" stroke="#000" stroke-width="2.7"/>
<rect x="1287.6" y="460.63" width="33" height="256.97" fill="#93CA60" stroke="#000" stroke-width="2.7"/>
<rect x="1341.35" y="459.59" width="33" height="258.01" fill="#93CA60" stroke="#000" stroke-width="2.7"/>
<path d="M949.3 431.5H1384.8V717.6H946.9M954.7 430V719.1" fill="none" stroke="#000" stroke-width="3" stroke-linecap="butt"/>
<path d="M949.3 691.59H954.7M946.9 665.58H954.7M949.3 639.57H954.7M946.9 613.56H954.7M949.3 587.55H954.7M946.9 561.55H954.7M949.3 535.54H954.7M946.9 509.53H954.7M949.3 483.52H954.7M946.9 457.51H954.7M981.6 717.6V725.3M1035.35 717.6V725.3M1089.1 717.6V725.3M1142.85 717.6V725.3M1196.6 717.6V725.3M1250.35 717.6V725.3M1304.1 717.6V725.3M1357.85 717.6V725.3" fill="none" stroke="#000" stroke-width="2.8"/>
<circle cx="969.3" cy="716.82" r="5.4"/>
<circle cx="981.6" cy="715.78" r="5.4"/>
<circle cx="993.9" cy="716.3" r="5.4"/>
<circle cx="1023.05" cy="716.82" r="5.4"/>
<circle cx="1035.35" cy="716.04" r="5.4"/>
<circle cx="1047.65" cy="715.78" r="5.4"/>
<circle cx="1076.8" cy="461.67" r="5.4"/>
<circle cx="1089.1" cy="458.55" r="5.4"/>
<circle cx="1101.4" cy="459.33" r="5.4"/>
<circle cx="1130.55" cy="716.56" r="5.4"/>
<circle cx="1142.85" cy="715.26" r="5.4"/>
<circle cx="1155.15" cy="716.04" r="5.4"/>
<circle cx="1184.3" cy="466.61" r="5.4"/>
<circle cx="1196.6" cy="458.03" r="5.4"/>
<circle cx="1208.9" cy="458.55" r="5.4"/>
<circle cx="1238.05" cy="716.82" r="5.4"/>
<circle cx="1250.35" cy="716.04" r="5.4"/>
<circle cx="1262.65" cy="716.82" r="5.4"/>
<circle cx="1291.8" cy="461.93" r="5.4"/>
<circle cx="1304.1" cy="458.29" r="5.4"/>
<circle cx="1316.4" cy="458.81" r="5.4"/>
<circle cx="1345.55" cy="459.59" r="5.4"/>
<circle cx="1357.85" cy="458.81" r="5.4"/>
<circle cx="1370.15" cy="458.81" r="5.4"/>
<text font-size="21" font-weight="bold" text-anchor="end" transform="translate(944.4 724.6) scale(1 1.04)">0</text>
<text font-size="21" font-weight="bold" text-anchor="end" transform="translate(944.4 672.58) scale(1 1.04)">20</text>
<text font-size="21" font-weight="bold" text-anchor="end" transform="translate(944.4 620.56) scale(1 1.04)">40</text>
<text font-size="21" font-weight="bold" text-anchor="end" transform="translate(944.4 568.55) scale(1 1.04)">60</text>
<text font-size="21" font-weight="bold" text-anchor="end" transform="translate(944.4 516.53) scale(1 1.04)">80</text>
<text font-size="21" font-weight="bold" text-anchor="end" transform="translate(944.4 464.51) scale(1 1.04)">100</text>
<text font-size="22.5" font-weight="bold" text-anchor="end" transform="translate(988.8 741.6) rotate(-45) scale(1 1.04)" stroke="#000" stroke-width="0.7" stroke-linejoin="round">N</text>
<text font-size="22.5" font-weight="bold" text-anchor="end" transform="translate(1042.55 741.6) rotate(-45) scale(1 1.04)" stroke="#000" stroke-width="0.7" stroke-linejoin="round">A</text>
<text font-size="22.5" font-weight="bold" text-anchor="end" transform="translate(1096.3 741.6) rotate(-45) scale(1 1.04)" stroke="#000" stroke-width="0.7" stroke-linejoin="round">S</text>
<text font-size="22.5" font-weight="bold" text-anchor="end" transform="translate(1150.05 741.6) rotate(-45) scale(1 1.04)" stroke="#000" stroke-width="0.7" stroke-linejoin="round">T</text>
<text font-size="22.5" font-weight="bold" text-anchor="end" transform="translate(1203.8 741.6) rotate(-45) scale(1 1.04)" stroke="#000" stroke-width="0.7" stroke-linejoin="round">AS</text>
<text font-size="22.5" font-weight="bold" text-anchor="end" transform="translate(1257.55 741.6) rotate(-45) scale(1 1.04)" stroke="#000" stroke-width="0.7" stroke-linejoin="round">AT</text>
<text font-size="22.5" font-weight="bold" text-anchor="end" transform="translate(1311.3 741.6) rotate(-45) scale(1 1.04)" stroke="#000" stroke-width="0.7" stroke-linejoin="round">ST</text>
<text font-size="22.5" font-weight="bold" text-anchor="end" transform="translate(1365.05 741.6) rotate(-45) scale(1 1.04)" stroke="#000" stroke-width="0.7" stroke-linejoin="round">AST</text>
<text font-size="26" font-weight="normal" text-anchor="middle" transform="translate(1169.75 418.8) scale(1 1.04)">S</text>
<rect x="1502.9" y="715" width="33" height="2.6" fill="#EE6A5B" stroke="#000" stroke-width="2.7"/>
<rect x="1556.65" y="715.52" width="33" height="2.08" fill="#EE6A5B" stroke="#000" stroke-width="2.7"/>
<rect x="1610.4" y="715.52" width="33" height="2.08" fill="#EE6A5B" stroke="#000" stroke-width="2.7"/>
<rect x="1664.15" y="461.41" width="33" height="256.19" fill="#93CA60" stroke="#000" stroke-width="2.7"/>
<rect x="1717.9" y="715.52" width="33" height="2.08" fill="#EE6A5B" stroke="#000" stroke-width="2.7"/>
<rect x="1771.65" y="463.75" width="33" height="253.85" fill="#93CA60" stroke="#000" stroke-width="2.7"/>
<rect x="1825.4" y="463.23" width="33" height="254.37" fill="#93CA60" stroke="#000" stroke-width="2.7"/>
<rect x="1879.15" y="462.71" width="33" height="254.89" fill="#93CA60" stroke="#000" stroke-width="2.7"/>
<path d="M1487.1 431.5H1922.6V717.6H1484.7M1492.5 430V719.1" fill="none" stroke="#000" stroke-width="3" stroke-linecap="butt"/>
<path d="M1487.1 691.59H1492.5M1484.7 665.58H1492.5M1487.1 639.57H1492.5M1484.7 613.56H1492.5M1487.1 587.55H1492.5M1484.7 561.55H1492.5M1487.1 535.54H1492.5M1484.7 509.53H1492.5M1487.1 483.52H1492.5M1484.7 457.51H1492.5M1519.4 717.6V725.3M1573.15 717.6V725.3M1626.9 717.6V725.3M1680.65 717.6V725.3M1734.4 717.6V725.3M1788.15 717.6V725.3M1841.9 717.6V725.3M1895.65 717.6V725.3" fill="none" stroke="#000" stroke-width="2.8"/>
<circle cx="1507.1" cy="716.04" r="5.4"/>
<circle cx="1519.4" cy="712.92" r="5.4"/>
<circle cx="1531.7" cy="714.22" r="5.4"/>
<circle cx="1560.85" cy="715.78" r="5.4"/>
<circle cx="1573.15" cy="715.26" r="5.4"/>
<circle cx="1585.45" cy="715" r="5.4"/>
<circle cx="1614.6" cy="716.56" r="5.4"/>
<circle cx="1626.9" cy="712.92" r="5.4"/>
<circle cx="1639.2" cy="716.04" r="5.4"/>
<circle cx="1668.35" cy="461.41" r="5.4"/>
<circle cx="1680.65" cy="458.55" r="5.4"/>
<circle cx="1692.95" cy="461.15" r="5.4"/>
<circle cx="1722.1" cy="716.3" r="5.4"/>
<circle cx="1734.4" cy="713.96" r="5.4"/>
<circle cx="1746.7" cy="714.48" r="5.4"/>
<circle cx="1775.85" cy="464.79" r="5.4"/>
<circle cx="1788.15" cy="462.19" r="5.4"/>
<circle cx="1800.45" cy="463.23" r="5.4"/>
<circle cx="1829.6" cy="464.53" r="5.4"/>
<circle cx="1841.9" cy="460.63" r="5.4"/>
<circle cx="1854.2" cy="461.41" r="5.4"/>
<circle cx="1883.35" cy="463.75" r="5.4"/>
<circle cx="1895.65" cy="461.15" r="5.4"/>
<circle cx="1907.95" cy="461.15" r="5.4"/>
<text font-size="21" font-weight="bold" text-anchor="end" transform="translate(1482.2 724.6) scale(1 1.04)">0</text>
<text font-size="21" font-weight="bold" text-anchor="end" transform="translate(1482.2 672.58) scale(1 1.04)">20</text>
<text font-size="21" font-weight="bold" text-anchor="end" transform="translate(1482.2 620.56) scale(1 1.04)">40</text>
<text font-size="21" font-weight="bold" text-anchor="end" transform="translate(1482.2 568.55) scale(1 1.04)">60</text>
<text font-size="21" font-weight="bold" text-anchor="end" transform="translate(1482.2 516.53) scale(1 1.04)">80</text>
<text font-size="21" font-weight="bold" text-anchor="end" transform="translate(1482.2 464.51) scale(1 1.04)">100</text>
<text font-size="22.5" font-weight="bold" text-anchor="end" transform="translate(1526.6 741.6) rotate(-45) scale(1 1.04)" stroke="#000" stroke-width="0.7" stroke-linejoin="round">N</text>
<text font-size="22.5" font-weight="bold" text-anchor="end" transform="translate(1580.35 741.6) rotate(-45) scale(1 1.04)" stroke="#000" stroke-width="0.7" stroke-linejoin="round">A</text>
<text font-size="22.5" font-weight="bold" text-anchor="end" transform="translate(1634.1 741.6) rotate(-45) scale(1 1.04)" stroke="#000" stroke-width="0.7" stroke-linejoin="round">S</text>
<text font-size="22.5" font-weight="bold" text-anchor="end" transform="translate(1687.85 741.6) rotate(-45) scale(1 1.04)" stroke="#000" stroke-width="0.7" stroke-linejoin="round">T</text>
<text font-size="22.5" font-weight="bold" text-anchor="end" transform="translate(1741.6 741.6) rotate(-45) scale(1 1.04)" stroke="#000" stroke-width="0.7" stroke-linejoin="round">AS</text>
<text font-size="22.5" font-weight="bold" text-anchor="end" transform="translate(1795.35 741.6) rotate(-45) scale(1 1.04)" stroke="#000" stroke-width="0.7" stroke-linejoin="round">AT</text>
<text font-size="22.5" font-weight="bold" text-anchor="end" transform="translate(1849.1 741.6) rotate(-45) scale(1 1.04)" stroke="#000" stroke-width="0.7" stroke-linejoin="round">ST</text>
<text font-size="22.5" font-weight="bold" text-anchor="end" transform="translate(1902.85 741.6) rotate(-45) scale(1 1.04)" stroke="#000" stroke-width="0.7" stroke-linejoin="round">AST</text>
<text font-size="26" font-weight="normal" text-anchor="middle" transform="translate(1707.55 418.8) scale(1 1.04)">T</text>
<rect x="428.8" y="1103.01" width="33" height="3.39" fill="#EE6A5B" stroke="#000" stroke-width="2.7"/>
<rect x="482.55" y="852.8" width="33" height="253.6" fill="#93CA60" stroke="#000" stroke-width="2.7"/>
<rect x="536.3" y="853.58" width="33" height="252.82" fill="#93CA60" stroke="#000" stroke-width="2.7"/>
<path d="M606.55 1102.49V1099.62M597.25 1099.62H615.85" stroke="#000" stroke-width="2" fill="none"/>
<rect x="590.05" y="1102.49" width="33" height="3.91" fill="#EE6A5B" stroke="#000" stroke-width="2.7"/>
<path d="M660.3 854.1V850.46M651 850.46H669.6" stroke="#000" stroke-width="2" fill="none"/>
<rect x="643.8" y="854.1" width="33" height="252.3" fill="#93CA60" stroke="#000" stroke-width="2.7"/>
<path d="M714.05 850.98V846.81M704.75 846.81H723.35" stroke="#000" stroke-width="2" fill="none"/>
<rect x="697.55" y="850.98" width="33" height="255.42" fill="#93CA60" stroke="#000" stroke-width="2.7"/>
<path d="M767.8 853.58V849.93M758.5 849.93H777.1" stroke="#000" stroke-width="2" fill="none"/>
<rect x="751.3" y="853.58" width="33" height="252.82" fill="#93CA60" stroke="#000" stroke-width="2.7"/>
<rect x="805.05" y="854.1" width="33" height="252.3" fill="#93CA60" stroke="#000" stroke-width="2.7"/>
<path d="M413 819.7H848.5V1106.4H410.6M418.4 818.2V1107.9" fill="none" stroke="#000" stroke-width="3" stroke-linecap="butt"/>
<path d="M413 1080.34H418.4M410.6 1054.27H418.4M413 1028.21H418.4M410.6 1002.15H418.4M413 976.08H418.4M410.6 950.02H418.4M413 923.95H418.4M410.6 897.89H418.4M413 871.83H418.4M410.6 845.76H418.4M445.3 1106.4V1114.1M499.05 1106.4V1114.1M552.8 1106.4V1114.1M606.55 1106.4V1114.1M660.3 1106.4V1114.1M714.05 1106.4V1114.1M767.8 1106.4V1114.1M821.55 1106.4V1114.1" fill="none" stroke="#000" stroke-width="2.8"/>
<circle cx="433" cy="1104.31" r="5.4"/>
<circle cx="445.3" cy="1100.41" r="5.4"/>
<circle cx="457.6" cy="1103.53" r="5.4"/>
<circle cx="486.75" cy="853.06" r="5.4"/>
<circle cx="499.05" cy="851.76" r="5.4"/>
<circle cx="511.35" cy="852.02" r="5.4"/>
<circle cx="540.5" cy="855.67" r="5.4"/>
<circle cx="552.8" cy="848.89" r="5.4"/>
<circle cx="565.1" cy="852.8" r="5.4"/>
<circle cx="594.25" cy="1104.31" r="5.4"/>
<circle cx="606.55" cy="1098.06" r="5.4"/>
<circle cx="618.85" cy="1100.41" r="5.4"/>
<circle cx="648" cy="855.67" r="5.4"/>
<circle cx="660.3" cy="849.41" r="5.4"/>
<circle cx="672.6" cy="852.8" r="5.4"/>
<circle cx="701.75" cy="854.1" r="5.4"/>
<circle cx="714.05" cy="846.28" r="5.4"/>
<circle cx="726.35" cy="847.85" r="5.4"/>
<circle cx="755.5" cy="856.71" r="5.4"/>
<circle cx="767.8" cy="849.93" r="5.4"/>
<circle cx="780.1" cy="850.19" r="5.4"/>
<circle cx="809.25" cy="856.19" r="5.4"/>
<circle cx="821.55" cy="849.93" r="5.4"/>
<circle cx="833.85" cy="854.36" r="5.4"/>
<text font-size="21" font-weight="bold" text-anchor="end" transform="translate(408.1 1113.4) scale(1 1.04)">0</text>
<text font-size="21" font-weight="bold" text-anchor="end" transform="translate(408.1 1061.27) scale(1 1.04)">20</text>
<text font-size="21" font-weight="bold" text-anchor="end" transform="translate(408.1 1009.15) scale(1 1.04)">40</text>
<text font-size="21" font-weight="bold" text-anchor="end" transform="translate(408.1 957.02) scale(1 1.04)">60</text>
<text font-size="21" font-weight="bold" text-anchor="end" transform="translate(408.1 904.89) scale(1 1.04)">80</text>
<text font-size="21" font-weight="bold" text-anchor="end" transform="translate(408.1 852.76) scale(1 1.04)">100</text>
<text font-size="22.5" font-weight="bold" text-anchor="end" transform="translate(452.5 1130.4) rotate(-45) scale(1 1.04)" stroke="#000" stroke-width="0.7" stroke-linejoin="round">N</text>
<text font-size="22.5" font-weight="bold" text-anchor="end" transform="translate(506.25 1130.4) rotate(-45) scale(1 1.04)" stroke="#000" stroke-width="0.7" stroke-linejoin="round">A</text>
<text font-size="22.5" font-weight="bold" text-anchor="end" transform="translate(560 1130.4) rotate(-45) scale(1 1.04)" stroke="#000" stroke-width="0.7" stroke-linejoin="round">S</text>
<text font-size="22.5" font-weight="bold" text-anchor="end" transform="translate(613.75 1130.4) rotate(-45) scale(1 1.04)" stroke="#000" stroke-width="0.7" stroke-linejoin="round">T</text>
<text font-size="22.5" font-weight="bold" text-anchor="end" transform="translate(667.5 1130.4) rotate(-45) scale(1 1.04)" stroke="#000" stroke-width="0.7" stroke-linejoin="round">AS</text>
<text font-size="22.5" font-weight="bold" text-anchor="end" transform="translate(721.25 1130.4) rotate(-45) scale(1 1.04)" stroke="#000" stroke-width="0.7" stroke-linejoin="round">AT</text>
<text font-size="22.5" font-weight="bold" text-anchor="end" transform="translate(775 1130.4) rotate(-45) scale(1 1.04)" stroke="#000" stroke-width="0.7" stroke-linejoin="round">ST</text>
<text font-size="22.5" font-weight="bold" text-anchor="end" transform="translate(828.75 1130.4) rotate(-45) scale(1 1.04)" stroke="#000" stroke-width="0.7" stroke-linejoin="round">AST</text>
<text font-size="26" font-weight="normal" text-anchor="middle" transform="translate(633.45 803.8) scale(1 1.04)">A<tspan font-family="DejaVu Sans, sans-serif" font-size="20" dx="-0.7" textLength="17.13" lengthAdjust="spacingAndGlyphs">∨</tspan><tspan dx="-0.7">S</tspan></text>
<text font-size="30.8" font-weight="normal" text-anchor="start" transform="translate(352.4 1132.5) rotate(-90) scale(1 1.04)">Normalized release (%)</text>
<rect x="965.1" y="1102.49" width="33" height="3.91" fill="#EE6A5B" stroke="#000" stroke-width="2.7"/>
<path d="M1035.35 856.71V846.81M1026.05 846.81H1044.65" stroke="#000" stroke-width="2" fill="none"/>
<rect x="1018.85" y="856.71" width="33" height="249.69" fill="#93CA60" stroke="#000" stroke-width="2.7"/>
<rect x="1072.6" y="1103.79" width="33" height="2.61" fill="#EE6A5B" stroke="#000" stroke-width="2.7"/>
<rect x="1126.35" y="849.67" width="33" height="256.73" fill="#93CA60" stroke="#000" stroke-width="2.7"/>
<path d="M1196.6 854.1V850.46M1187.3 850.46H1205.9" stroke="#000" stroke-width="2" fill="none"/>
<rect x="1180.1" y="854.1" width="33" height="252.3" fill="#93CA60" stroke="#000" stroke-width="2.7"/>
<rect x="1233.85" y="854.63" width="33" height="251.77" fill="#93CA60" stroke="#000" stroke-width="2.7"/>
<path d="M1304.1 852.02V848.37M1294.8 848.37H1313.4" stroke="#000" stroke-width="2" fill="none"/>
<rect x="1287.6" y="852.02" width="33" height="254.38" fill="#93CA60" stroke="#000" stroke-width="2.7"/>
<path d="M1357.85 854.1V849.41M1348.55 849.41H1367.15" stroke="#000" stroke-width="2" fill="none"/>
<rect x="1341.35" y="854.1" width="33" height="252.3" fill="#93CA60" stroke="#000" stroke-width="2.7"/>
<path d="M949.3 819.7H1384.8V1106.4H946.9M954.7 818.2V1107.9" fill="none" stroke="#000" stroke-width="3" stroke-linecap="butt"/>
<path d="M949.3 1080.34H954.7M946.9 1054.27H954.7M949.3 1028.21H954.7M946.9 1002.15H954.7M949.3 976.08H954.7M946.9 950.02H954.7M949.3 923.95H954.7M946.9 897.89H954.7M949.3 871.83H954.7M946.9 845.76H954.7M981.6 1106.4V1114.1M1035.35 1106.4V1114.1M1089.1 1106.4V1114.1M1142.85 1106.4V1114.1M1196.6 1106.4V1114.1M1250.35 1106.4V1114.1M1304.1 1106.4V1114.1M1357.85 1106.4V1114.1" fill="none" stroke="#000" stroke-width="2.8"/>
<circle cx="969.3" cy="1104.31" r="5.4"/>
<circle cx="981.6" cy="1099.62" r="5.4"/>
<circle cx="993.9" cy="1103.27" r="5.4"/>
<circle cx="1023.05" cy="849.67" r="5.4"/>
<circle cx="1035.35" cy="865.83" r="5.4"/>
<circle cx="1047.65" cy="850.98" r="5.4"/>
<circle cx="1076.8" cy="1104.31" r="5.4"/>
<circle cx="1089.1" cy="1103.01" r="5.4"/>
<circle cx="1101.4" cy="1103.27" r="5.4"/>
<circle cx="1130.55" cy="851.5" r="5.4"/>
<circle cx="1142.85" cy="846.28" r="5.4"/>
<circle cx="1155.15" cy="848.37" r="5.4"/>
<circle cx="1184.3" cy="856.71" r="5.4"/>
<circle cx="1196.6" cy="849.93" r="5.4"/>
<circle cx="1208.9" cy="850.19" r="5.4"/>
<circle cx="1238.05" cy="855.67" r="5.4"/>
<circle cx="1250.35" cy="851.5" r="5.4"/>
<circle cx="1262.65" cy="854.36" r="5.4"/>
<circle cx="1291.8" cy="855.41" r="5.4"/>
<circle cx="1304.1" cy="848.37" r="5.4"/>
<circle cx="1316.4" cy="848.89" r="5.4"/>
<circle cx="1345.55" cy="858.01" r="5.4"/>
<circle cx="1357.85" cy="848.89" r="5.4"/>
<circle cx="1370.15" cy="850.98" r="5.4"/>
<text font-size="21" font-weight="bold" text-anchor="end" transform="translate(944.4 1113.4) scale(1 1.04)">0</text>
<text font-size="21" font-weight="bold" text-anchor="end" transform="translate(944.4 1061.27) scale(1 1.04)">20</text>
<text font-size="21" font-weight="bold" text-anchor="end" transform="translate(944.4 1009.15) scale(1 1.04)">40</text>
<text font-size="21" font-weight="bold" text-anchor="end" transform="translate(944.4 957.02) scale(1 1.04)">60</text>
<text font-size="21" font-weight="bold" text-anchor="end" transform="translate(944.4 904.89) scale(1 1.04)">80</text>
<text font-size="21" font-weight="bold" text-anchor="end" transform="translate(944.4 852.76) scale(1 1.04)">100</text>
<text font-size="22.5" font-weight="bold" text-anchor="end" transform="translate(988.8 1130.4) rotate(-45) scale(1 1.04)" stroke="#000" stroke-width="0.7" stroke-linejoin="round">N</text>
<text font-size="22.5" font-weight="bold" text-anchor="end" transform="translate(1042.55 1130.4) rotate(-45) scale(1 1.04)" stroke="#000" stroke-width="0.7" stroke-linejoin="round">A</text>
<text font-size="22.5" font-weight="bold" text-anchor="end" transform="translate(1096.3 1130.4) rotate(-45) scale(1 1.04)" stroke="#000" stroke-width="0.7" stroke-linejoin="round">S</text>
<text font-size="22.5" font-weight="bold" text-anchor="end" transform="translate(1150.05 1130.4) rotate(-45) scale(1 1.04)" stroke="#000" stroke-width="0.7" stroke-linejoin="round">T</text>
<text font-size="22.5" font-weight="bold" text-anchor="end" transform="translate(1203.8 1130.4) rotate(-45) scale(1 1.04)" stroke="#000" stroke-width="0.7" stroke-linejoin="round">AS</text>
<text font-size="22.5" font-weight="bold" text-anchor="end" transform="translate(1257.55 1130.4) rotate(-45) scale(1 1.04)" stroke="#000" stroke-width="0.7" stroke-linejoin="round">AT</text>
<text font-size="22.5" font-weight="bold" text-anchor="end" transform="translate(1311.3 1130.4) rotate(-45) scale(1 1.04)" stroke="#000" stroke-width="0.7" stroke-linejoin="round">ST</text>
<text font-size="22.5" font-weight="bold" text-anchor="end" transform="translate(1365.05 1130.4) rotate(-45) scale(1 1.04)" stroke="#000" stroke-width="0.7" stroke-linejoin="round">AST</text>
<text font-size="26" font-weight="normal" text-anchor="middle" transform="translate(1169.75 803.8) scale(1 1.04)">A<tspan font-family="DejaVu Sans, sans-serif" font-size="20" dx="-0.7" textLength="17.13" lengthAdjust="spacingAndGlyphs">∨</tspan><tspan dx="-0.7">T</tspan></text>
<path d="M1519.4 1101.19V1097.54M1510.1 1097.54H1528.7" stroke="#000" stroke-width="2" fill="none"/>
<rect x="1502.9" y="1101.19" width="33" height="5.21" fill="#EE6A5B" stroke="#000" stroke-width="2.7"/>
<path d="M1573.15 1101.19V1099.1M1563.85 1099.1H1582.45" stroke="#000" stroke-width="2" fill="none"/>
<rect x="1556.65" y="1101.19" width="33" height="5.21" fill="#EE6A5B" stroke="#000" stroke-width="2.7"/>
<path d="M1626.9 859.32V852.54M1617.6 852.54H1636.2" stroke="#000" stroke-width="2" fill="none"/>
<rect x="1610.4" y="859.32" width="33" height="247.08" fill="#93CA60" stroke="#000" stroke-width="2.7"/>
<path d="M1680.65 854.1V850.19M1671.35 850.19H1689.95" stroke="#000" stroke-width="2" fill="none"/>
<rect x="1664.15" y="854.1" width="33" height="252.3" fill="#93CA60" stroke="#000" stroke-width="2.7"/>
<rect x="1717.9" y="854.1" width="33" height="252.3" fill="#93CA60" stroke="#000" stroke-width="2.7"/>
<rect x="1771.65" y="851.5" width="33" height="254.9" fill="#93CA60" stroke="#000" stroke-width="2.7"/>
<rect x="1825.4" y="851.5" width="33" height="254.9" fill="#93CA60" stroke="#000" stroke-width="2.7"/>
<rect x="1879.15" y="850.98" width="33" height="255.42" fill="#93CA60" stroke="#000" stroke-width="2.7"/>
<path d="M1487.1 819.7H1922.6V1106.4H1484.7M1492.5 818.2V1107.9" fill="none" stroke="#000" stroke-width="3" stroke-linecap="butt"/>
<path d="M1487.1 1080.34H1492.5M1484.7 1054.27H1492.5M1487.1 1028.21H1492.5M1484.7 1002.15H1492.5M1487.1 976.08H1492.5M1484.7 950.02H1492.5M1487.1 923.95H1492.5M1484.7 897.89H1492.5M1487.1 871.83H1492.5M1484.7 845.76H1492.5M1519.4 1106.4V1114.1M1573.15 1106.4V1114.1M1626.9 1106.4V1114.1M1680.65 1106.4V1114.1M1734.4 1106.4V1114.1M1788.15 1106.4V1114.1M1841.9 1106.4V1114.1M1895.65 1106.4V1114.1" fill="none" stroke="#000" stroke-width="2.8"/>
<circle cx="1507.1" cy="1103.01" r="5.4"/>
<circle cx="1519.4" cy="1095.97" r="5.4"/>
<circle cx="1531.7" cy="1100.14" r="5.4"/>
<circle cx="1560.85" cy="1102.49" r="5.4"/>
<circle cx="1573.15" cy="1098.58" r="5.4"/>
<circle cx="1585.45" cy="1100.14" r="5.4"/>
<circle cx="1614.6" cy="861.92" r="5.4"/>
<circle cx="1626.9" cy="851.5" r="5.4"/>
<circle cx="1639.2" cy="859.32" r="5.4"/>
<circle cx="1668.35" cy="858.01" r="5.4"/>
<circle cx="1680.65" cy="849.67" r="5.4"/>
<circle cx="1692.95" cy="850.46" r="5.4"/>
<circle cx="1722.1" cy="856.71" r="5.4"/>
<circle cx="1734.4" cy="851.5" r="5.4"/>
<circle cx="1746.7" cy="852.02" r="5.4"/>
<circle cx="1775.85" cy="853.58" r="5.4"/>
<circle cx="1788.15" cy="847.59" r="5.4"/>
<circle cx="1800.45" cy="849.67" r="5.4"/>
<circle cx="1829.6" cy="852.8" r="5.4"/>
<circle cx="1841.9" cy="849.41" r="5.4"/>
<circle cx="1854.2" cy="852.02" r="5.4"/>
<circle cx="1883.35" cy="852.02" r="5.4"/>
<circle cx="1895.65" cy="849.41" r="5.4"/>
<circle cx="1907.95" cy="850.19" r="5.4"/>
<text font-size="21" font-weight="bold" text-anchor="end" transform="translate(1482.2 1113.4) scale(1 1.04)">0</text>
<text font-size="21" font-weight="bold" text-anchor="end" transform="translate(1482.2 1061.27) scale(1 1.04)">20</text>
<text font-size="21" font-weight="bold" text-anchor="end" transform="translate(1482.2 1009.15) scale(1 1.04)">40</text>
<text font-size="21" font-weight="bold" text-anchor="end" transform="translate(1482.2 957.02) scale(1 1.04)">60</text>
<text font-size="21" font-weight="bold" text-anchor="end" transform="translate(1482.2 904.89) scale(1 1.04)">80</text>
<text font-size="21" font-weight="bold" text-anchor="end" transform="translate(1482.2 852.76) scale(1 1.04)">100</text>
<text font-size="22.5" font-weight="bold" text-anchor="end" transform="translate(1526.6 1130.4) rotate(-45) scale(1 1.04)" stroke="#000" stroke-width="0.7" stroke-linejoin="round">N</text>
<text font-size="22.5" font-weight="bold" text-anchor="end" transform="translate(1580.35 1130.4) rotate(-45) scale(1 1.04)" stroke="#000" stroke-width="0.7" stroke-linejoin="round">A</text>
<text font-size="22.5" font-weight="bold" text-anchor="end" transform="translate(1634.1 1130.4) rotate(-45) scale(1 1.04)" stroke="#000" stroke-width="0.7" stroke-linejoin="round">S</text>
<text font-size="22.5" font-weight="bold" text-anchor="end" transform="translate(1687.85 1130.4) rotate(-45) scale(1 1.04)" stroke="#000" stroke-width="0.7" stroke-linejoin="round">T</text>
<text font-size="22.5" font-weight="bold" text-anchor="end" transform="translate(1741.6 1130.4) rotate(-45) scale(1 1.04)" stroke="#000" stroke-width="0.7" stroke-linejoin="round">AS</text>
<text font-size="22.5" font-weight="bold" text-anchor="end" transform="translate(1795.35 1130.4) rotate(-45) scale(1 1.04)" stroke="#000" stroke-width="0.7" stroke-linejoin="round">AT</text>
<text font-size="22.5" font-weight="bold" text-anchor="end" transform="translate(1849.1 1130.4) rotate(-45) scale(1 1.04)" stroke="#000" stroke-width="0.7" stroke-linejoin="round">ST</text>
<text font-size="22.5" font-weight="bold" text-anchor="end" transform="translate(1902.85 1130.4) rotate(-45) scale(1 1.04)" stroke="#000" stroke-width="0.7" stroke-linejoin="round">AST</text>
<text font-size="26" font-weight="normal" text-anchor="middle" transform="translate(1707.55 803.8) scale(1 1.04)">S<tspan font-family="DejaVu Sans, sans-serif" font-size="20" dx="-0.7" textLength="17.13" lengthAdjust="spacingAndGlyphs">∨</tspan><tspan dx="-0.7">T</tspan></text>
<rect x="428.8" y="1485.07" width="33" height="3.13" fill="#EE6A5B" stroke="#000" stroke-width="2.5"/>
<rect x="482.55" y="1485.86" width="33" height="2.34" fill="#EE6A5B" stroke="#000" stroke-width="2.5"/>
<rect x="536.3" y="1485.6" width="33" height="2.6" fill="#EE6A5B" stroke="#000" stroke-width="2.5"/>
<rect x="590.05" y="1485.34" width="33" height="2.87" fill="#EE6A5B" stroke="#000" stroke-width="2.5"/>
<rect x="643.8" y="1235.56" width="33" height="252.64" fill="#93CA60" stroke="#000" stroke-width="2.5"/>
<rect x="697.55" y="1484.81" width="33" height="3.39" fill="#EE6A5B" stroke="#000" stroke-width="2.5"/>
<rect x="751.3" y="1486.12" width="33" height="2.08" fill="#EE6A5B" stroke="#000" stroke-width="2.5"/>
<rect x="805.05" y="1230.87" width="33" height="257.33" fill="#93CA60" stroke="#000" stroke-width="2.5"/>
<path d="M413 1201.7H848.5V1488.2H410.6M418.4 1200.3V1489.6" fill="none" stroke="#000" stroke-width="2.8" stroke-linecap="butt"/>
<path d="M413 1462.15H418.4M410.6 1436.11H418.4M413 1410.06H418.4M410.6 1384.02H418.4M413 1357.97H418.4M410.6 1331.93H418.4M413 1305.88H418.4M410.6 1279.84H418.4M413 1253.79H418.4M410.6 1227.75H418.4M445.3 1488.2V1495.9M499.05 1488.2V1495.9M552.8 1488.2V1495.9M606.55 1488.2V1495.9M660.3 1488.2V1495.9M714.05 1488.2V1495.9M767.8 1488.2V1495.9M821.55 1488.2V1495.9" fill="none" stroke="#000" stroke-width="2.6"/>
<circle cx="433" cy="1485.6" r="5.4"/>
<circle cx="445.3" cy="1482.99" r="5.4"/>
<circle cx="457.6" cy="1484.81" r="5.4"/>
<circle cx="486.75" cy="1486.38" r="5.4"/>
<circle cx="499.05" cy="1485.07" r="5.4"/>
<circle cx="511.35" cy="1485.6" r="5.4"/>
<circle cx="540.5" cy="1486.12" r="5.4"/>
<circle cx="552.8" cy="1484.03" r="5.4"/>
<circle cx="565.1" cy="1485.34" r="5.4"/>
<circle cx="594.25" cy="1485.6" r="5.4"/>
<circle cx="606.55" cy="1484.81" r="5.4"/>
<circle cx="618.85" cy="1484.81" r="5.4"/>
<circle cx="648" cy="1236.86" r="5.4"/>
<circle cx="660.3" cy="1230.35" r="5.4"/>
<circle cx="672.6" cy="1233.48" r="5.4"/>
<circle cx="701.75" cy="1484.81" r="5.4"/>
<circle cx="714.05" cy="1483.51" r="5.4"/>
<circle cx="726.35" cy="1484.29" r="5.4"/>
<circle cx="755.5" cy="1486.9" r="5.4"/>
<circle cx="767.8" cy="1484.29" r="5.4"/>
<circle cx="780.1" cy="1486.12" r="5.4"/>
<circle cx="809.25" cy="1231.91" r="5.4"/>
<circle cx="821.55" cy="1229.31" r="5.4"/>
<circle cx="833.85" cy="1229.57" r="5.4"/>
<text font-size="21" font-weight="bold" text-anchor="end" transform="translate(408.1 1443.11) scale(1 1.04)">20</text>
<text font-size="21" font-weight="bold" text-anchor="end" transform="translate(408.1 1391.02) scale(1 1.04)">40</text>
<text font-size="21" font-weight="bold" text-anchor="end" transform="translate(408.1 1338.93) scale(1 1.04)">60</text>
<text font-size="21" font-weight="bold" text-anchor="end" transform="translate(408.1 1286.84) scale(1 1.04)">80</text>
<text font-size="21" font-weight="bold" text-anchor="end" transform="translate(408.1 1234.75) scale(1 1.04)">100</text>
<text font-size="22.5" font-weight="bold" text-anchor="end" transform="translate(452.5 1512.2) rotate(-45) scale(1 1.04)" stroke="#000" stroke-width="0.7" stroke-linejoin="round">N</text>
<text font-size="22.5" font-weight="bold" text-anchor="end" transform="translate(506.25 1512.2) rotate(-45) scale(1 1.04)" stroke="#000" stroke-width="0.7" stroke-linejoin="round">A</text>
<text font-size="22.5" font-weight="bold" text-anchor="end" transform="translate(560 1512.2) rotate(-45) scale(1 1.04)" stroke="#000" stroke-width="0.7" stroke-linejoin="round">S</text>
<text font-size="22.5" font-weight="bold" text-anchor="end" transform="translate(613.75 1512.2) rotate(-45) scale(1 1.04)" stroke="#000" stroke-width="0.7" stroke-linejoin="round">T</text>
<text font-size="22.5" font-weight="bold" text-anchor="end" transform="translate(667.5 1512.2) rotate(-45) scale(1 1.04)" stroke="#000" stroke-width="0.7" stroke-linejoin="round">AS</text>
<text font-size="22.5" font-weight="bold" text-anchor="end" transform="translate(721.25 1512.2) rotate(-45) scale(1 1.04)" stroke="#000" stroke-width="0.7" stroke-linejoin="round">AT</text>
<text font-size="22.5" font-weight="bold" text-anchor="end" transform="translate(775 1512.2) rotate(-45) scale(1 1.04)" stroke="#000" stroke-width="0.7" stroke-linejoin="round">ST</text>
<text font-size="22.5" font-weight="bold" text-anchor="end" transform="translate(828.75 1512.2) rotate(-45) scale(1 1.04)" stroke="#000" stroke-width="0.7" stroke-linejoin="round">AST</text>
<text font-size="26" font-weight="normal" text-anchor="middle" transform="translate(633.45 1188.6) scale(1 1.04)">A<tspan font-family="DejaVu Sans, sans-serif" font-size="20" dy="-2" dx="-0.7" textLength="17.13" lengthAdjust="spacingAndGlyphs">∧</tspan><tspan dy="2" dx="-0.7">S</tspan></text>
<text font-size="30.8" font-weight="normal" text-anchor="start" transform="translate(352.4 1517.7) rotate(-90) scale(1 1.04)">Normalized release (%)</text>
<path d="M981.6 1481.43V1478.82M972.3 1478.82H990.9" stroke="#000" stroke-width="2" fill="none"/>
<rect x="965.1" y="1481.43" width="33" height="6.77" fill="#EE6A5B" stroke="#000" stroke-width="2.5"/>
<path d="M1035.35 1479.87V1474.66M1026.05 1474.66H1044.65" stroke="#000" stroke-width="2" fill="none"/>
<rect x="1018.85" y="1479.87" width="33" height="8.33" fill="#EE6A5B" stroke="#000" stroke-width="2.5"/>
<path d="M1089.1 1480.39V1472.57M1079.8 1472.57H1098.4" stroke="#000" stroke-width="2" fill="none"/>
<rect x="1072.6" y="1480.39" width="33" height="7.81" fill="#EE6A5B" stroke="#000" stroke-width="2.5"/>
<path d="M1142.85 1479.87V1474.14M1133.55 1474.14H1152.15" stroke="#000" stroke-width="2" fill="none"/>
<rect x="1126.35" y="1479.87" width="33" height="8.33" fill="#EE6A5B" stroke="#000" stroke-width="2.5"/>
<path d="M1196.6 1480.39V1478.3M1187.3 1478.3H1205.9" stroke="#000" stroke-width="2" fill="none"/>
<rect x="1180.1" y="1480.39" width="33" height="7.81" fill="#EE6A5B" stroke="#000" stroke-width="2.5"/>
<rect x="1233.85" y="1236.6" width="33" height="251.6" fill="#93CA60" stroke="#000" stroke-width="2.5"/>
<path d="M1304.1 1481.17V1476.22M1294.8 1476.22H1313.4" stroke="#000" stroke-width="2" fill="none"/>
<rect x="1287.6" y="1481.17" width="33" height="7.03" fill="#EE6A5B" stroke="#000" stroke-width="2.5"/>
<path d="M1357.85 1239.47V1234.52M1348.55 1234.52H1367.15" stroke="#000" stroke-width="2" fill="none"/>
<rect x="1341.35" y="1239.47" width="33" height="248.73" fill="#93CA60" stroke="#000" stroke-width="2.5"/>
<path d="M949.3 1201.7H1384.8V1488.2H946.9M954.7 1200.3V1489.6" fill="none" stroke="#000" stroke-width="2.8" stroke-linecap="butt"/>
<path d="M949.3 1462.15H954.7M946.9 1436.11H954.7M949.3 1410.06H954.7M946.9 1384.02H954.7M949.3 1357.97H954.7M946.9 1331.93H954.7M949.3 1305.88H954.7M946.9 1279.84H954.7M949.3 1253.79H954.7M946.9 1227.75H954.7M981.6 1488.2V1495.9M1035.35 1488.2V1495.9M1089.1 1488.2V1495.9M1142.85 1488.2V1495.9M1196.6 1488.2V1495.9M1250.35 1488.2V1495.9M1304.1 1488.2V1495.9M1357.85 1488.2V1495.9" fill="none" stroke="#000" stroke-width="2.6"/>
<circle cx="969.3" cy="1483.51" r="5.4"/>
<circle cx="981.6" cy="1477.78" r="5.4"/>
<circle cx="993.9" cy="1479.61" r="5.4"/>
<circle cx="1023.05" cy="1484.29" r="5.4"/>
<circle cx="1035.35" cy="1473.88" r="5.4"/>
<circle cx="1047.65" cy="1479.61" r="5.4"/>
<circle cx="1076.8" cy="1486.64" r="5.4"/>
<circle cx="1089.1" cy="1471.01" r="5.4"/>
<circle cx="1101.4" cy="1483.51" r="5.4"/>
<circle cx="1130.55" cy="1486.12" r="5.4"/>
<circle cx="1142.85" cy="1475.18" r="5.4"/>
<circle cx="1155.15" cy="1477" r="5.4"/>
<circle cx="1184.3" cy="1482.47" r="5.4"/>
<circle cx="1196.6" cy="1477.78" r="5.4"/>
<circle cx="1208.9" cy="1479.87" r="5.4"/>
<circle cx="1238.05" cy="1237.64" r="5.4"/>
<circle cx="1250.35" cy="1233.74" r="5.4"/>
<circle cx="1262.65" cy="1235.56" r="5.4"/>
<circle cx="1291.8" cy="1484.03" r="5.4"/>
<circle cx="1304.1" cy="1475.18" r="5.4"/>
<circle cx="1316.4" cy="1483.25" r="5.4"/>
<circle cx="1345.55" cy="1243.89" r="5.4"/>
<circle cx="1357.85" cy="1234" r="5.4"/>
<circle cx="1370.15" cy="1238.68" r="5.4"/>
<text font-size="21" font-weight="bold" text-anchor="end" transform="translate(944.4 1495.2) scale(1 1.04)">0</text>
<text font-size="21" font-weight="bold" text-anchor="end" transform="translate(944.4 1443.11) scale(1 1.04)">20</text>
<text font-size="21" font-weight="bold" text-anchor="end" transform="translate(944.4 1391.02) scale(1 1.04)">40</text>
<text font-size="21" font-weight="bold" text-anchor="end" transform="translate(944.4 1338.93) scale(1 1.04)">60</text>
<text font-size="21" font-weight="bold" text-anchor="end" transform="translate(944.4 1286.84) scale(1 1.04)">80</text>
<text font-size="21" font-weight="bold" text-anchor="end" transform="translate(944.4 1234.75) scale(1 1.04)">100</text>
<text font-size="22.5" font-weight="bold" text-anchor="end" transform="translate(988.8 1512.2) rotate(-45) scale(1 1.04)" stroke="#000" stroke-width="0.7" stroke-linejoin="round">N</text>
<text font-size="22.5" font-weight="bold" text-anchor="end" transform="translate(1042.55 1512.2) rotate(-45) scale(1 1.04)" stroke="#000" stroke-width="0.7" stroke-linejoin="round">A</text>
<text font-size="22.5" font-weight="bold" text-anchor="end" transform="translate(1096.3 1512.2) rotate(-45) scale(1 1.04)" stroke="#000" stroke-width="0.7" stroke-linejoin="round">S</text>
<text font-size="22.5" font-weight="bold" text-anchor="end" transform="translate(1150.05 1512.2) rotate(-45) scale(1 1.04)" stroke="#000" stroke-width="0.7" stroke-linejoin="round">T</text>
<text font-size="22.5" font-weight="bold" text-anchor="end" transform="translate(1203.8 1512.2) rotate(-45) scale(1 1.04)" stroke="#000" stroke-width="0.7" stroke-linejoin="round">AS</text>
<text font-size="22.5" font-weight="bold" text-anchor="end" transform="translate(1257.55 1512.2) rotate(-45) scale(1 1.04)" stroke="#000" stroke-width="0.7" stroke-linejoin="round">AT</text>
<text font-size="22.5" font-weight="bold" text-anchor="end" transform="translate(1311.3 1512.2) rotate(-45) scale(1 1.04)" stroke="#000" stroke-width="0.7" stroke-linejoin="round">ST</text>
<text font-size="22.5" font-weight="bold" text-anchor="end" transform="translate(1365.05 1512.2) rotate(-45) scale(1 1.04)" stroke="#000" stroke-width="0.7" stroke-linejoin="round">AST</text>
<text font-size="26" font-weight="normal" text-anchor="middle" transform="translate(1169.75 1188.6) scale(1 1.04)">A<tspan font-family="DejaVu Sans, sans-serif" font-size="20" dy="-2" dx="-0.7" textLength="17.13" lengthAdjust="spacingAndGlyphs">∧</tspan><tspan dy="2" dx="-0.7">T</tspan></text>
<path d="M1519.4 1479.87V1474.66M1510.1 1474.66H1528.7" stroke="#000" stroke-width="2" fill="none"/>
<rect x="1502.9" y="1479.87" width="33" height="8.33" fill="#EE6A5B" stroke="#000" stroke-width="2.5"/>
<path d="M1573.15 1477.78V1473.09M1563.85 1473.09H1582.45" stroke="#000" stroke-width="2" fill="none"/>
<rect x="1556.65" y="1477.78" width="33" height="10.42" fill="#EE6A5B" stroke="#000" stroke-width="2.5"/>
<path d="M1626.9 1477.26V1474.66M1617.6 1474.66H1636.2" stroke="#000" stroke-width="2" fill="none"/>
<rect x="1610.4" y="1477.26" width="33" height="10.94" fill="#EE6A5B" stroke="#000" stroke-width="2.5"/>
<path d="M1680.65 1476.74V1473.61M1671.35 1473.61H1689.95" stroke="#000" stroke-width="2" fill="none"/>
<rect x="1664.15" y="1476.74" width="33" height="11.46" fill="#EE6A5B" stroke="#000" stroke-width="2.5"/>
<path d="M1734.4 1483.51V1479.87M1725.1 1479.87H1743.7" stroke="#000" stroke-width="2" fill="none"/>
<rect x="1717.9" y="1483.51" width="33" height="4.69" fill="#EE6A5B" stroke="#000" stroke-width="2.5"/>
<rect x="1771.65" y="1477.78" width="33" height="10.42" fill="#EE6A5B" stroke="#000" stroke-width="2.5"/>
<path d="M1841.9 1235.56V1229.31M1832.6 1229.31H1851.2" stroke="#000" stroke-width="2" fill="none"/>
<rect x="1825.4" y="1235.56" width="33" height="252.64" fill="#93CA60" stroke="#000" stroke-width="2.5"/>
<path d="M1895.65 1236.6V1232.95M1886.35 1232.95H1904.95" stroke="#000" stroke-width="2" fill="none"/>
<rect x="1879.15" y="1236.6" width="33" height="251.6" fill="#93CA60" stroke="#000" stroke-width="2.5"/>
<path d="M1487.1 1201.7H1922.6V1488.2H1484.7M1492.5 1200.3V1489.6" fill="none" stroke="#000" stroke-width="2.8" stroke-linecap="butt"/>
<path d="M1487.1 1462.15H1492.5M1484.7 1436.11H1492.5M1487.1 1410.06H1492.5M1484.7 1384.02H1492.5M1487.1 1357.97H1492.5M1484.7 1331.93H1492.5M1487.1 1305.88H1492.5M1484.7 1279.84H1492.5M1487.1 1253.79H1492.5M1484.7 1227.75H1492.5M1519.4 1488.2V1495.9M1573.15 1488.2V1495.9M1626.9 1488.2V1495.9M1680.65 1488.2V1495.9M1734.4 1488.2V1495.9M1788.15 1488.2V1495.9M1841.9 1488.2V1495.9M1895.65 1488.2V1495.9" fill="none" stroke="#000" stroke-width="2.6"/>
<circle cx="1507.1" cy="1482.99" r="5.4"/>
<circle cx="1519.4" cy="1473.88" r="5.4"/>
<circle cx="1531.7" cy="1481.69" r="5.4"/>
<circle cx="1560.85" cy="1483.51" r="5.4"/>
<circle cx="1573.15" cy="1474.14" r="5.4"/>
<circle cx="1585.45" cy="1476.22" r="5.4"/>
<circle cx="1614.6" cy="1480.39" r="5.4"/>
<circle cx="1626.9" cy="1474.14" r="5.4"/>
<circle cx="1639.2" cy="1476.22" r="5.4"/>
<circle cx="1668.35" cy="1478.82" r="5.4"/>
<circle cx="1680.65" cy="1472.57" r="5.4"/>
<circle cx="1692.95" cy="1477.78" r="5.4"/>
<circle cx="1722.1" cy="1486.12" r="5.4"/>
<circle cx="1734.4" cy="1479.08" r="5.4"/>
<circle cx="1746.7" cy="1482.99" r="5.4"/>
<circle cx="1775.85" cy="1478.82" r="5.4"/>
<circle cx="1788.15" cy="1476.74" r="5.4"/>
<circle cx="1800.45" cy="1477.52" r="5.4"/>
<circle cx="1829.6" cy="1239.21" r="5.4"/>
<circle cx="1841.9" cy="1228.79" r="5.4"/>
<circle cx="1854.2" cy="1237.12" r="5.4"/>
<circle cx="1883.35" cy="1238.16" r="5.4"/>
<circle cx="1895.65" cy="1231.91" r="5.4"/>
<circle cx="1907.95" cy="1237.38" r="5.4"/>
<text font-size="21" font-weight="bold" text-anchor="end" transform="translate(1482.2 1495.2) scale(1 1.04)">0</text>
<text font-size="21" font-weight="bold" text-anchor="end" transform="translate(1482.2 1443.11) scale(1 1.04)">20</text>
<text font-size="21" font-weight="bold" text-anchor="end" transform="translate(1482.2 1391.02) scale(1 1.04)">40</text>
<text font-size="21" font-weight="bold" text-anchor="end" transform="translate(1482.2 1338.93) scale(1 1.04)">60</text>
<text font-size="21" font-weight="bold" text-anchor="end" transform="translate(1482.2 1286.84) scale(1 1.04)">80</text>
<text font-size="21" font-weight="bold" text-anchor="end" transform="translate(1482.2 1234.75) scale(1 1.04)">100</text>
<text font-size="22.5" font-weight="bold" text-anchor="end" transform="translate(1526.6 1512.2) rotate(-45) scale(1 1.04)" stroke="#000" stroke-width="0.7" stroke-linejoin="round">N</text>
<text font-size="22.5" font-weight="bold" text-anchor="end" transform="translate(1580.35 1512.2) rotate(-45) scale(1 1.04)" stroke="#000" stroke-width="0.7" stroke-linejoin="round">A</text>
<text font-size="22.5" font-weight="bold" text-anchor="end" transform="translate(1634.1 1512.2) rotate(-45) scale(1 1.04)" stroke="#000" stroke-width="0.7" stroke-linejoin="round">S</text>
<text font-size="22.5" font-weight="bold" text-anchor="end" transform="translate(1687.85 1512.2) rotate(-45) scale(1 1.04)" stroke="#000" stroke-width="0.7" stroke-linejoin="round">T</text>
<text font-size="22.5" font-weight="bold" text-anchor="end" transform="translate(1741.6 1512.2) rotate(-45) scale(1 1.04)" stroke="#000" stroke-width="0.7" stroke-linejoin="round">AS</text>
<text font-size="22.5" font-weight="bold" text-anchor="end" transform="translate(1795.35 1512.2) rotate(-45) scale(1 1.04)" stroke="#000" stroke-width="0.7" stroke-linejoin="round">AT</text>
<text font-size="22.5" font-weight="bold" text-anchor="end" transform="translate(1849.1 1512.2) rotate(-45) scale(1 1.04)" stroke="#000" stroke-width="0.7" stroke-linejoin="round">ST</text>
<text font-size="22.5" font-weight="bold" text-anchor="end" transform="translate(1902.85 1512.2) rotate(-45) scale(1 1.04)" stroke="#000" stroke-width="0.7" stroke-linejoin="round">AST</text>
<text font-size="26" font-weight="normal" text-anchor="middle" transform="translate(1707.55 1188.6) scale(1 1.04)">S<tspan font-family="DejaVu Sans, sans-serif" font-size="20" dy="-2" dx="-0.7" textLength="17.13" lengthAdjust="spacingAndGlyphs">∧</tspan><tspan dy="2" dx="-0.7">T</tspan></text>
<rect x="428.1" y="1870.27" width="33" height="3.13" fill="#EE6A5B" stroke="#000" stroke-width="2.3"/>
<rect x="481.85" y="1616.23" width="33" height="257.17" fill="#93CA60" stroke="#000" stroke-width="2.3"/>
<rect x="535.6" y="1870.27" width="33" height="3.13" fill="#EE6A5B" stroke="#000" stroke-width="2.3"/>
<rect x="589.35" y="1870.01" width="33" height="3.39" fill="#EE6A5B" stroke="#000" stroke-width="2.3"/>
<rect x="643.1" y="1617.28" width="33" height="256.12" fill="#93CA60" stroke="#000" stroke-width="2.3"/>
<rect x="696.85" y="1617.8" width="33" height="255.6" fill="#93CA60" stroke="#000" stroke-width="2.3"/>
<rect x="750.6" y="1620.93" width="33" height="252.47" fill="#93CA60" stroke="#000" stroke-width="2.3"/>
<rect x="804.35" y="1617.8" width="33" height="255.6" fill="#93CA60" stroke="#000" stroke-width="2.3"/>
<path d="M412.3 1586.5H847.8V1873.4H409.9M417.7 1585.2V1874.7" fill="none" stroke="#000" stroke-width="2.6" stroke-linecap="butt"/>
<path d="M412.3 1847.32H417.7M409.9 1821.24H417.7M412.3 1795.15H417.7M409.9 1769.07H417.7M412.3 1742.99H417.7M409.9 1716.91H417.7M412.3 1690.83H417.7M409.9 1664.75H417.7M412.3 1638.66H417.7M409.9 1612.58H417.7M444.6 1873.4V1881.1M498.35 1873.4V1881.1M552.1 1873.4V1881.1M605.85 1873.4V1881.1M659.6 1873.4V1881.1M713.35 1873.4V1881.1M767.1 1873.4V1881.1M820.85 1873.4V1881.1" fill="none" stroke="#000" stroke-width="2.4"/>
<circle cx="432.3" cy="1871.84" r="4.6"/>
<circle cx="444.6" cy="1868.97" r="4.6"/>
<circle cx="456.9" cy="1869.49" r="4.6"/>
<circle cx="486.05" cy="1616.75" r="4.6"/>
<circle cx="498.35" cy="1613.63" r="4.6"/>
<circle cx="510.65" cy="1615.71" r="4.6"/>
<circle cx="539.8" cy="1871.84" r="4.6"/>
<circle cx="552.1" cy="1867.66" r="4.6"/>
<circle cx="564.4" cy="1868.97" r="4.6"/>
<circle cx="593.55" cy="1870.27" r="4.6"/>
<circle cx="605.85" cy="1869.23" r="4.6"/>
<circle cx="618.15" cy="1870.01" r="4.6"/>
<circle cx="647.3" cy="1617.28" r="4.6"/>
<circle cx="659.6" cy="1615.19" r="4.6"/>
<circle cx="671.9" cy="1616.23" r="4.6"/>
<circle cx="701.05" cy="1617.8" r="4.6"/>
<circle cx="713.35" cy="1615.97" r="4.6"/>
<circle cx="725.65" cy="1616.75" r="4.6"/>
<circle cx="754.8" cy="1622.49" r="4.6"/>
<circle cx="767.1" cy="1617.8" r="4.6"/>
<circle cx="779.4" cy="1618.32" r="4.6"/>
<circle cx="808.55" cy="1618.32" r="4.6"/>
<circle cx="820.85" cy="1616.23" r="4.6"/>
<circle cx="833.15" cy="1616.75" r="4.6"/>
<text font-size="21" font-weight="bold" text-anchor="end" transform="translate(407.4 1880.4) scale(1 1.04)">0</text>
<text font-size="21" font-weight="bold" text-anchor="end" transform="translate(407.4 1828.24) scale(1 1.04)">20</text>
<text font-size="21" font-weight="bold" text-anchor="end" transform="translate(407.4 1776.07) scale(1 1.04)">40</text>
<text font-size="21" font-weight="bold" text-anchor="end" transform="translate(407.4 1723.91) scale(1 1.04)">60</text>
<text font-size="21" font-weight="bold" text-anchor="end" transform="translate(407.4 1671.75) scale(1 1.04)">80</text>
<text font-size="21" font-weight="bold" text-anchor="end" transform="translate(407.4 1619.58) scale(1 1.04)">100</text>
<text font-size="22.5" font-weight="bold" text-anchor="end" transform="translate(451.8 1897.4) rotate(-45) scale(1 1.04)" stroke="#000" stroke-width="0.7" stroke-linejoin="round">N</text>
<text font-size="22.5" font-weight="bold" text-anchor="end" transform="translate(505.55 1897.4) rotate(-45) scale(1 1.04)" stroke="#000" stroke-width="0.7" stroke-linejoin="round">A</text>
<text font-size="22.5" font-weight="bold" text-anchor="end" transform="translate(559.3 1897.4) rotate(-45) scale(1 1.04)" stroke="#000" stroke-width="0.7" stroke-linejoin="round">S</text>
<text font-size="22.5" font-weight="bold" text-anchor="end" transform="translate(613.05 1897.4) rotate(-45) scale(1 1.04)" stroke="#000" stroke-width="0.7" stroke-linejoin="round">T</text>
<text font-size="22.5" font-weight="bold" text-anchor="end" transform="translate(666.8 1897.4) rotate(-45) scale(1 1.04)" stroke="#000" stroke-width="0.7" stroke-linejoin="round">AS</text>
<text font-size="22.5" font-weight="bold" text-anchor="end" transform="translate(720.55 1897.4) rotate(-45) scale(1 1.04)" stroke="#000" stroke-width="0.7" stroke-linejoin="round">AT</text>
<text font-size="22.5" font-weight="bold" text-anchor="end" transform="translate(774.3 1897.4) rotate(-45) scale(1 1.04)" stroke="#000" stroke-width="0.7" stroke-linejoin="round">ST</text>
<text font-size="22.5" font-weight="bold" text-anchor="end" transform="translate(828.05 1897.4) rotate(-45) scale(1 1.04)" stroke="#000" stroke-width="0.7" stroke-linejoin="round">AST</text>
<text font-size="26" font-weight="normal" text-anchor="middle" transform="translate(632.75 1573.1) scale(1 1.04)">A<tspan font-family="DejaVu Sans, sans-serif" font-size="20" dx="-0.7" textLength="17.13" lengthAdjust="spacingAndGlyphs">∨</tspan><tspan dx="-0.7">(S</tspan><tspan font-family="DejaVu Sans, sans-serif" font-size="20" dy="-2" dx="-0.7" textLength="17.13" lengthAdjust="spacingAndGlyphs">∧</tspan><tspan dy="2" dx="-0.7">T)</tspan></text>
<text font-size="30.8" font-weight="normal" text-anchor="start" transform="translate(352.4 1902.5) rotate(-90) scale(1 1.04)">Normalized release (%)</text>
<rect x="964.4" y="1869.49" width="33" height="3.91" fill="#EE6A5B" stroke="#000" stroke-width="2.3"/>
<rect x="1018.15" y="1871.31" width="33" height="2.09" fill="#EE6A5B" stroke="#000" stroke-width="2.3"/>
<rect x="1071.9" y="1616.23" width="33" height="257.17" fill="#93CA60" stroke="#000" stroke-width="2.3"/>
<rect x="1125.65" y="1870.53" width="33" height="2.87" fill="#EE6A5B" stroke="#000" stroke-width="2.3"/>
<rect x="1179.4" y="1617.8" width="33" height="255.6" fill="#93CA60" stroke="#000" stroke-width="2.3"/>
<rect x="1233.15" y="1619.88" width="33" height="253.52" fill="#93CA60" stroke="#000" stroke-width="2.3"/>
<rect x="1286.9" y="1617.28" width="33" height="256.12" fill="#93CA60" stroke="#000" stroke-width="2.3"/>
<rect x="1340.65" y="1618.84" width="33" height="254.56" fill="#93CA60" stroke="#000" stroke-width="2.3"/>
<path d="M948.6 1586.5H1384.1V1873.4H946.2M954 1585.2V1874.7" fill="none" stroke="#000" stroke-width="2.6" stroke-linecap="butt"/>
<path d="M948.6 1847.32H954M946.2 1821.24H954M948.6 1795.15H954M946.2 1769.07H954M948.6 1742.99H954M946.2 1716.91H954M948.6 1690.83H954M946.2 1664.75H954M948.6 1638.66H954M946.2 1612.58H954M980.9 1873.4V1881.1M1034.65 1873.4V1881.1M1088.4 1873.4V1881.1M1142.15 1873.4V1881.1M1195.9 1873.4V1881.1M1249.65 1873.4V1881.1M1303.4 1873.4V1881.1M1357.15 1873.4V1881.1" fill="none" stroke="#000" stroke-width="2.4"/>
<circle cx="968.6" cy="1870.27" r="4.6"/>
<circle cx="980.9" cy="1868.18" r="4.6"/>
<circle cx="993.2" cy="1869.49" r="4.6"/>
<circle cx="1022.35" cy="1871.84" r="4.6"/>
<circle cx="1034.65" cy="1870.79" r="4.6"/>
<circle cx="1046.95" cy="1870.53" r="4.6"/>
<circle cx="1076.1" cy="1616.75" r="4.6"/>
<circle cx="1088.4" cy="1614.15" r="4.6"/>
<circle cx="1100.7" cy="1616.23" r="4.6"/>
<circle cx="1129.85" cy="1871.31" r="4.6"/>
<circle cx="1142.15" cy="1869.23" r="4.6"/>
<circle cx="1154.45" cy="1870.01" r="4.6"/>
<circle cx="1183.6" cy="1618.06" r="4.6"/>
<circle cx="1195.9" cy="1615.71" r="4.6"/>
<circle cx="1208.2" cy="1617.8" r="4.6"/>
<circle cx="1237.35" cy="1620.67" r="4.6"/>
<circle cx="1249.65" cy="1618.32" r="4.6"/>
<circle cx="1261.95" cy="1619.36" r="4.6"/>
<circle cx="1291.1" cy="1618.32" r="4.6"/>
<circle cx="1303.4" cy="1614.67" r="4.6"/>
<circle cx="1315.7" cy="1616.75" r="4.6"/>
<circle cx="1344.85" cy="1619.36" r="4.6"/>
<circle cx="1357.15" cy="1613.1" r="4.6"/>
<circle cx="1369.45" cy="1617.8" r="4.6"/>
<text font-size="21" font-weight="bold" text-anchor="end" transform="translate(943.7 1880.4) scale(1 1.04)">0</text>
<text font-size="21" font-weight="bold" text-anchor="end" transform="translate(943.7 1828.24) scale(1 1.04)">20</text>
<text font-size="21" font-weight="bold" text-anchor="end" transform="translate(943.7 1776.07) scale(1 1.04)">40</text>
<text font-size="21" font-weight="bold" text-anchor="end" transform="translate(943.7 1723.91) scale(1 1.04)">60</text>
<text font-size="21" font-weight="bold" text-anchor="end" transform="translate(943.7 1671.75) scale(1 1.04)">80</text>
<text font-size="21" font-weight="bold" text-anchor="end" transform="translate(943.7 1619.58) scale(1 1.04)">100</text>
<text font-size="22.5" font-weight="bold" text-anchor="end" transform="translate(988.1 1897.4) rotate(-45) scale(1 1.04)" stroke="#000" stroke-width="0.7" stroke-linejoin="round">N</text>
<text font-size="22.5" font-weight="bold" text-anchor="end" transform="translate(1041.85 1897.4) rotate(-45) scale(1 1.04)" stroke="#000" stroke-width="0.7" stroke-linejoin="round">A</text>
<text font-size="22.5" font-weight="bold" text-anchor="end" transform="translate(1095.6 1897.4) rotate(-45) scale(1 1.04)" stroke="#000" stroke-width="0.7" stroke-linejoin="round">S</text>
<text font-size="22.5" font-weight="bold" text-anchor="end" transform="translate(1149.35 1897.4) rotate(-45) scale(1 1.04)" stroke="#000" stroke-width="0.7" stroke-linejoin="round">T</text>
<text font-size="22.5" font-weight="bold" text-anchor="end" transform="translate(1203.1 1897.4) rotate(-45) scale(1 1.04)" stroke="#000" stroke-width="0.7" stroke-linejoin="round">AS</text>
<text font-size="22.5" font-weight="bold" text-anchor="end" transform="translate(1256.85 1897.4) rotate(-45) scale(1 1.04)" stroke="#000" stroke-width="0.7" stroke-linejoin="round">AT</text>
<text font-size="22.5" font-weight="bold" text-anchor="end" transform="translate(1310.6 1897.4) rotate(-45) scale(1 1.04)" stroke="#000" stroke-width="0.7" stroke-linejoin="round">ST</text>
<text font-size="22.5" font-weight="bold" text-anchor="end" transform="translate(1364.35 1897.4) rotate(-45) scale(1 1.04)" stroke="#000" stroke-width="0.7" stroke-linejoin="round">AST</text>
<text font-size="26" font-weight="normal" text-anchor="middle" transform="translate(1169.05 1573.1) scale(1 1.04)">S<tspan font-family="DejaVu Sans, sans-serif" font-size="20" dx="-0.7" textLength="17.13" lengthAdjust="spacingAndGlyphs">∨</tspan><tspan dx="-0.7">(A</tspan><tspan font-family="DejaVu Sans, sans-serif" font-size="20" dy="-2" dx="-0.7" textLength="17.13" lengthAdjust="spacingAndGlyphs">∧</tspan><tspan dy="2" dx="-0.7">T)</tspan></text>
<rect x="1502.2" y="1870.53" width="33" height="2.87" fill="#EE6A5B" stroke="#000" stroke-width="2.3"/>
<rect x="1555.95" y="1871.57" width="33" height="1.83" fill="#EE6A5B" stroke="#000" stroke-width="2.3"/>
<rect x="1609.7" y="1871.57" width="33" height="1.83" fill="#EE6A5B" stroke="#000" stroke-width="2.3"/>
<rect x="1663.45" y="1616.75" width="33" height="256.65" fill="#93CA60" stroke="#000" stroke-width="2.3"/>
<rect x="1717.2" y="1616.23" width="33" height="257.17" fill="#93CA60" stroke="#000" stroke-width="2.3"/>
<rect x="1770.95" y="1616.75" width="33" height="256.65" fill="#93CA60" stroke="#000" stroke-width="2.3"/>
<rect x="1824.7" y="1617.8" width="33" height="255.6" fill="#93CA60" stroke="#000" stroke-width="2.3"/>
<path d="M1894.95 1624.58V1619.36M1885.65 1619.36H1904.25" stroke="#000" stroke-width="2" fill="none"/>
<rect x="1878.45" y="1624.58" width="33" height="248.82" fill="#93CA60" stroke="#000" stroke-width="2.3"/>
<path d="M1486.4 1586.5H1921.9V1873.4H1484M1491.8 1585.2V1874.7" fill="none" stroke="#000" stroke-width="2.6" stroke-linecap="butt"/>
<path d="M1486.4 1847.32H1491.8M1484 1821.24H1491.8M1486.4 1795.15H1491.8M1484 1769.07H1491.8M1486.4 1742.99H1491.8M1484 1716.91H1491.8M1486.4 1690.83H1491.8M1484 1664.75H1491.8M1486.4 1638.66H1491.8M1484 1612.58H1491.8M1518.7 1873.4V1881.1M1572.45 1873.4V1881.1M1626.2 1873.4V1881.1M1679.95 1873.4V1881.1M1733.7 1873.4V1881.1M1787.45 1873.4V1881.1M1841.2 1873.4V1881.1M1894.95 1873.4V1881.1" fill="none" stroke="#000" stroke-width="2.4"/>
<circle cx="1506.4" cy="1871.84" r="4.6"/>
<circle cx="1518.7" cy="1868.71" r="4.6"/>
<circle cx="1531" cy="1870.79" r="4.6"/>
<circle cx="1560.15" cy="1872.36" r="4.6"/>
<circle cx="1572.45" cy="1870.27" r="4.6"/>
<circle cx="1584.75" cy="1871.31" r="4.6"/>
<circle cx="1613.9" cy="1872.36" r="4.6"/>
<circle cx="1626.2" cy="1870.01" r="4.6"/>
<circle cx="1638.5" cy="1871.57" r="4.6"/>
<circle cx="1667.65" cy="1617.28" r="4.6"/>
<circle cx="1679.95" cy="1613.1" r="4.6"/>
<circle cx="1692.25" cy="1616.23" r="4.6"/>
<circle cx="1721.4" cy="1616.49" r="4.6"/>
<circle cx="1733.7" cy="1615.19" r="4.6"/>
<circle cx="1746" cy="1615.19" r="4.6"/>
<circle cx="1775.15" cy="1617.8" r="4.6"/>
<circle cx="1787.45" cy="1614.15" r="4.6"/>
<circle cx="1799.75" cy="1615.19" r="4.6"/>
<circle cx="1828.9" cy="1618.58" r="4.6"/>
<circle cx="1841.2" cy="1615.19" r="4.6"/>
<circle cx="1853.5" cy="1616.75" r="4.6"/>
<circle cx="1882.65" cy="1627.19" r="4.6"/>
<circle cx="1894.95" cy="1618.32" r="4.6"/>
<circle cx="1907.25" cy="1624.06" r="4.6"/>
<text font-size="21" font-weight="bold" text-anchor="end" transform="translate(1481.5 1880.4) scale(1 1.04)">0</text>
<text font-size="21" font-weight="bold" text-anchor="end" transform="translate(1481.5 1828.24) scale(1 1.04)">20</text>
<text font-size="21" font-weight="bold" text-anchor="end" transform="translate(1481.5 1776.07) scale(1 1.04)">40</text>
<text font-size="21" font-weight="bold" text-anchor="end" transform="translate(1481.5 1723.91) scale(1 1.04)">60</text>
<text font-size="21" font-weight="bold" text-anchor="end" transform="translate(1481.5 1671.75) scale(1 1.04)">80</text>
<text font-size="21" font-weight="bold" text-anchor="end" transform="translate(1481.5 1619.58) scale(1 1.04)">100</text>
<text font-size="22.5" font-weight="bold" text-anchor="end" transform="translate(1525.9 1897.4) rotate(-45) scale(1 1.04)" stroke="#000" stroke-width="0.7" stroke-linejoin="round">N</text>
<text font-size="22.5" font-weight="bold" text-anchor="end" transform="translate(1579.65 1897.4) rotate(-45) scale(1 1.04)" stroke="#000" stroke-width="0.7" stroke-linejoin="round">A</text>
<text font-size="22.5" font-weight="bold" text-anchor="end" transform="translate(1633.4 1897.4) rotate(-45) scale(1 1.04)" stroke="#000" stroke-width="0.7" stroke-linejoin="round">S</text>
<text font-size="22.5" font-weight="bold" text-anchor="end" transform="translate(1687.15 1897.4) rotate(-45) scale(1 1.04)" stroke="#000" stroke-width="0.7" stroke-linejoin="round">T</text>
<text font-size="22.5" font-weight="bold" text-anchor="end" transform="translate(1740.9 1897.4) rotate(-45) scale(1 1.04)" stroke="#000" stroke-width="0.7" stroke-linejoin="round">AS</text>
<text font-size="22.5" font-weight="bold" text-anchor="end" transform="translate(1794.65 1897.4) rotate(-45) scale(1 1.04)" stroke="#000" stroke-width="0.7" stroke-linejoin="round">AT</text>
<text font-size="22.5" font-weight="bold" text-anchor="end" transform="translate(1848.4 1897.4) rotate(-45) scale(1 1.04)" stroke="#000" stroke-width="0.7" stroke-linejoin="round">ST</text>
<text font-size="22.5" font-weight="bold" text-anchor="end" transform="translate(1902.15 1897.4) rotate(-45) scale(1 1.04)" stroke="#000" stroke-width="0.7" stroke-linejoin="round">AST</text>
<text font-size="26" font-weight="normal" text-anchor="middle" transform="translate(1706.85 1573.1) scale(1 1.04)">T<tspan font-family="DejaVu Sans, sans-serif" font-size="20" dx="-0.7" textLength="17.13" lengthAdjust="spacingAndGlyphs">∨</tspan><tspan dx="-0.7">(A</tspan><tspan font-family="DejaVu Sans, sans-serif" font-size="20" dy="-2" dx="-0.7" textLength="17.13" lengthAdjust="spacingAndGlyphs">∧</tspan><tspan dy="2" dx="-0.7">S)</tspan></text>
<rect x="428" y="2251.74" width="33" height="3.66" fill="#93CA60" stroke="#000" stroke-width="2.4"/>
<rect x="481.75" y="2251.48" width="33" height="3.92" fill="#93CA60" stroke="#000" stroke-width="2.4"/>
<rect x="535.5" y="2249.65" width="33" height="5.75" fill="#93CA60" stroke="#000" stroke-width="2.4"/>
<rect x="589.25" y="2249.65" width="33" height="5.75" fill="#93CA60" stroke="#000" stroke-width="2.4"/>
<rect x="643" y="1999.96" width="33" height="255.44" fill="#93CA60" stroke="#000" stroke-width="2.4"/>
<rect x="696.75" y="2001.01" width="33" height="254.39" fill="#93CA60" stroke="#000" stroke-width="2.4"/>
<rect x="750.5" y="2251.74" width="33" height="3.66" fill="#93CA60" stroke="#000" stroke-width="2.4"/>
<rect x="804.25" y="2001.53" width="33" height="253.87" fill="#93CA60" stroke="#000" stroke-width="2.4"/>
<path d="M412.2 1968.1H847.7V2255.4H409.8M417.6 1966.75V2256.75" fill="none" stroke="#000" stroke-width="2.7" stroke-linecap="butt"/>
<path d="M412.2 2229.28H417.6M409.8 2203.16H417.6M412.2 2177.05H417.6M409.8 2150.93H417.6M412.2 2124.81H417.6M409.8 2098.69H417.6M412.2 2072.57H417.6M409.8 2046.45H417.6M412.2 2020.34H417.6M409.8 1994.22H417.6M444.5 2255.4V2263.1M498.25 2255.4V2263.1M552 2255.4V2263.1M605.75 2255.4V2263.1M659.5 2255.4V2263.1M713.25 2255.4V2263.1M767 2255.4V2263.1M820.75 2255.4V2263.1" fill="none" stroke="#000" stroke-width="2.5"/>
<circle cx="432.2" cy="2253.31" r="5.4"/>
<circle cx="444.5" cy="2249.92" r="5.4"/>
<circle cx="456.8" cy="2250.18" r="5.4"/>
<circle cx="485.95" cy="2252.27" r="5.4"/>
<circle cx="498.25" cy="2250.18" r="5.4"/>
<circle cx="510.55" cy="2250.7" r="5.4"/>
<circle cx="539.7" cy="2250.18" r="5.4"/>
<circle cx="552" cy="2247.83" r="5.4"/>
<circle cx="564.3" cy="2248.09" r="5.4"/>
<circle cx="593.45" cy="2250.18" r="5.4"/>
<circle cx="605.75" cy="2247.83" r="5.4"/>
<circle cx="618.05" cy="2248.61" r="5.4"/>
<circle cx="647.2" cy="2001.01" r="5.4"/>
<circle cx="659.5" cy="1995.79" r="5.4"/>
<circle cx="671.8" cy="1997.35" r="5.4"/>
<circle cx="700.95" cy="2002.58" r="5.4"/>
<circle cx="713.25" cy="1996.31" r="5.4"/>
<circle cx="725.55" cy="1999.96" r="5.4"/>
<circle cx="754.7" cy="2253.31" r="5.4"/>
<circle cx="767" cy="2250.18" r="5.4"/>
<circle cx="779.3" cy="2250.18" r="5.4"/>
<circle cx="808.45" cy="2002.05" r="5.4"/>
<circle cx="820.75" cy="1997.35" r="5.4"/>
<circle cx="833.05" cy="2002.05" r="5.4"/>
<text font-size="21" font-weight="bold" text-anchor="end" transform="translate(407.3 2262.4) scale(1 1.04)">0</text>
<text font-size="21" font-weight="bold" text-anchor="end" transform="translate(407.3 2210.16) scale(1 1.04)">20</text>
<text font-size="21" font-weight="bold" text-anchor="end" transform="translate(407.3 2157.93) scale(1 1.04)">40</text>
<text font-size="21" font-weight="bold" text-anchor="end" transform="translate(407.3 2105.69) scale(1 1.04)">60</text>
<text font-size="21" font-weight="bold" text-anchor="end" transform="translate(407.3 2053.45) scale(1 1.04)">80</text>
<text font-size="21" font-weight="bold" text-anchor="end" transform="translate(407.3 2001.22) scale(1 1.04)">100</text>
<text font-size="22.5" font-weight="bold" text-anchor="end" transform="translate(451.7 2279.4) rotate(-45) scale(1 1.04)" stroke="#000" stroke-width="0.7" stroke-linejoin="round">N</text>
<text font-size="22.5" font-weight="bold" text-anchor="end" transform="translate(505.45 2279.4) rotate(-45) scale(1 1.04)" stroke="#000" stroke-width="0.7" stroke-linejoin="round">A</text>
<text font-size="22.5" font-weight="bold" text-anchor="end" transform="translate(559.2 2279.4) rotate(-45) scale(1 1.04)" stroke="#000" stroke-width="0.7" stroke-linejoin="round">S</text>
<text font-size="22.5" font-weight="bold" text-anchor="end" transform="translate(612.95 2279.4) rotate(-45) scale(1 1.04)" stroke="#000" stroke-width="0.7" stroke-linejoin="round">T</text>
<text font-size="22.5" font-weight="bold" text-anchor="end" transform="translate(666.7 2279.4) rotate(-45) scale(1 1.04)" stroke="#000" stroke-width="0.7" stroke-linejoin="round">AS</text>
<text font-size="22.5" font-weight="bold" text-anchor="end" transform="translate(720.45 2279.4) rotate(-45) scale(1 1.04)" stroke="#000" stroke-width="0.7" stroke-linejoin="round">AT</text>
<text font-size="22.5" font-weight="bold" text-anchor="end" transform="translate(774.2 2279.4) rotate(-45) scale(1 1.04)" stroke="#000" stroke-width="0.7" stroke-linejoin="round">ST</text>
<text font-size="22.5" font-weight="bold" text-anchor="end" transform="translate(827.95 2279.4) rotate(-45) scale(1 1.04)" stroke="#000" stroke-width="0.7" stroke-linejoin="round">AST</text>
<text font-size="26" font-weight="normal" text-anchor="middle" transform="translate(632.65 1958.1) scale(1 1.04)">A<tspan font-family="DejaVu Sans, sans-serif" font-size="20" dy="-2" dx="-0.7" textLength="17.13" lengthAdjust="spacingAndGlyphs">∧</tspan><tspan dy="2" dx="-0.7">(S</tspan><tspan font-family="DejaVu Sans, sans-serif" font-size="20" dx="-0.7" textLength="17.13" lengthAdjust="spacingAndGlyphs">∨</tspan><tspan dx="-0.7">T)</tspan></text>
<text font-size="30.8" font-weight="normal" text-anchor="start" transform="translate(352.4 2286.2) rotate(-90) scale(1 1.04)">Normalized release (%)</text>
<rect x="964.3" y="2252.79" width="33" height="2.61" fill="#93CA60" stroke="#000" stroke-width="2.4"/>
<rect x="1018.05" y="2253.31" width="33" height="2.09" fill="#93CA60" stroke="#000" stroke-width="2.4"/>
<rect x="1071.8" y="2252" width="33" height="3.4" fill="#93CA60" stroke="#000" stroke-width="2.4"/>
<rect x="1125.55" y="2252" width="33" height="3.4" fill="#93CA60" stroke="#000" stroke-width="2.4"/>
<rect x="1179.3" y="2000.49" width="33" height="254.91" fill="#93CA60" stroke="#000" stroke-width="2.4"/>
<rect x="1233.05" y="2252.27" width="33" height="3.13" fill="#93CA60" stroke="#000" stroke-width="2.4"/>
<rect x="1286.8" y="2000.49" width="33" height="254.91" fill="#93CA60" stroke="#000" stroke-width="2.4"/>
<rect x="1340.55" y="2000.23" width="33" height="255.17" fill="#93CA60" stroke="#000" stroke-width="2.4"/>
<path d="M948.5 1968.1H1384V2255.4H946.1M953.9 1966.75V2256.75" fill="none" stroke="#000" stroke-width="2.7" stroke-linecap="butt"/>
<path d="M948.5 2229.28H953.9M946.1 2203.16H953.9M948.5 2177.05H953.9M946.1 2150.93H953.9M948.5 2124.81H953.9M946.1 2098.69H953.9M948.5 2072.57H953.9M946.1 2046.45H953.9M948.5 2020.34H953.9M946.1 1994.22H953.9M980.8 2255.4V2263.1M1034.55 2255.4V2263.1M1088.3 2255.4V2263.1M1142.05 2255.4V2263.1M1195.8 2255.4V2263.1M1249.55 2255.4V2263.1M1303.3 2255.4V2263.1M1357.05 2255.4V2263.1" fill="none" stroke="#000" stroke-width="2.5"/>
<circle cx="968.5" cy="2253.83" r="5.4"/>
<circle cx="980.8" cy="2251.22" r="5.4"/>
<circle cx="993.1" cy="2252.79" r="5.4"/>
<circle cx="1022.25" cy="2254.62" r="5.4"/>
<circle cx="1034.55" cy="2252" r="5.4"/>
<circle cx="1046.85" cy="2252.79" r="5.4"/>
<circle cx="1076" cy="2253.31" r="5.4"/>
<circle cx="1088.3" cy="2248.87" r="5.4"/>
<circle cx="1100.6" cy="2252" r="5.4"/>
<circle cx="1129.75" cy="2253.31" r="5.4"/>
<circle cx="1142.05" cy="2250.7" r="5.4"/>
<circle cx="1154.35" cy="2251.22" r="5.4"/>
<circle cx="1183.5" cy="2001.01" r="5.4"/>
<circle cx="1195.8" cy="1997.87" r="5.4"/>
<circle cx="1208.1" cy="1999.44" r="5.4"/>
<circle cx="1237.25" cy="2253.05" r="5.4"/>
<circle cx="1249.55" cy="2250.18" r="5.4"/>
<circle cx="1261.85" cy="2252" r="5.4"/>
<circle cx="1291" cy="2000.75" r="5.4"/>
<circle cx="1303.3" cy="1998.14" r="5.4"/>
<circle cx="1315.6" cy="1999.96" r="5.4"/>
<circle cx="1344.75" cy="2001.01" r="5.4"/>
<circle cx="1357.05" cy="1996.83" r="5.4"/>
<circle cx="1369.35" cy="1998.4" r="5.4"/>
<text font-size="21" font-weight="bold" text-anchor="end" transform="translate(943.6 2262.4) scale(1 1.04)">0</text>
<text font-size="21" font-weight="bold" text-anchor="end" transform="translate(943.6 2210.16) scale(1 1.04)">20</text>
<text font-size="21" font-weight="bold" text-anchor="end" transform="translate(943.6 2157.93) scale(1 1.04)">40</text>
<text font-size="21" font-weight="bold" text-anchor="end" transform="translate(943.6 2105.69) scale(1 1.04)">60</text>
<text font-size="21" font-weight="bold" text-anchor="end" transform="translate(943.6 2053.45) scale(1 1.04)">80</text>
<text font-size="21" font-weight="bold" text-anchor="end" transform="translate(943.6 2001.22) scale(1 1.04)">100</text>
<text font-size="22.5" font-weight="bold" text-anchor="end" transform="translate(988 2279.4) rotate(-45) scale(1 1.04)" stroke="#000" stroke-width="0.7" stroke-linejoin="round">N</text>
<text font-size="22.5" font-weight="bold" text-anchor="end" transform="translate(1041.75 2279.4) rotate(-45) scale(1 1.04)" stroke="#000" stroke-width="0.7" stroke-linejoin="round">A</text>
<text font-size="22.5" font-weight="bold" text-anchor="end" transform="translate(1095.5 2279.4) rotate(-45) scale(1 1.04)" stroke="#000" stroke-width="0.7" stroke-linejoin="round">S</text>
<text font-size="22.5" font-weight="bold" text-anchor="end" transform="translate(1149.25 2279.4) rotate(-45) scale(1 1.04)" stroke="#000" stroke-width="0.7" stroke-linejoin="round">T</text>
<text font-size="22.5" font-weight="bold" text-anchor="end" transform="translate(1203 2279.4) rotate(-45) scale(1 1.04)" stroke="#000" stroke-width="0.7" stroke-linejoin="round">AS</text>
<text font-size="22.5" font-weight="bold" text-anchor="end" transform="translate(1256.75 2279.4) rotate(-45) scale(1 1.04)" stroke="#000" stroke-width="0.7" stroke-linejoin="round">AT</text>
<text font-size="22.5" font-weight="bold" text-anchor="end" transform="translate(1310.5 2279.4) rotate(-45) scale(1 1.04)" stroke="#000" stroke-width="0.7" stroke-linejoin="round">ST</text>
<text font-size="22.5" font-weight="bold" text-anchor="end" transform="translate(1364.25 2279.4) rotate(-45) scale(1 1.04)" stroke="#000" stroke-width="0.7" stroke-linejoin="round">AST</text>
<text font-size="26" font-weight="normal" text-anchor="middle" transform="translate(1168.95 1958.1) scale(1 1.04)">S<tspan font-family="DejaVu Sans, sans-serif" font-size="20" dy="-2" dx="-0.7" textLength="17.13" lengthAdjust="spacingAndGlyphs">∧</tspan><tspan dy="2" dx="-0.7">(A</tspan><tspan font-family="DejaVu Sans, sans-serif" font-size="20" dx="-0.7" textLength="17.13" lengthAdjust="spacingAndGlyphs">∨</tspan><tspan dx="-0.7">T)</tspan></text>
<rect x="1502.1" y="2249.65" width="33" height="5.75" fill="#93CA60" stroke="#000" stroke-width="2.4"/>
<rect x="1555.85" y="2249.92" width="33" height="5.48" fill="#93CA60" stroke="#000" stroke-width="2.4"/>
<rect x="1609.6" y="2251.22" width="33" height="4.18" fill="#93CA60" stroke="#000" stroke-width="2.4"/>
<rect x="1663.35" y="2249.92" width="33" height="5.48" fill="#93CA60" stroke="#000" stroke-width="2.4"/>
<rect x="1717.1" y="2252" width="33" height="3.4" fill="#93CA60" stroke="#000" stroke-width="2.4"/>
<rect x="1770.85" y="2000.75" width="33" height="254.65" fill="#93CA60" stroke="#000" stroke-width="2.4"/>
<rect x="1824.6" y="2001.53" width="33" height="253.87" fill="#93CA60" stroke="#000" stroke-width="2.4"/>
<rect x="1878.35" y="2000.49" width="33" height="254.91" fill="#93CA60" stroke="#000" stroke-width="2.4"/>
<path d="M1486.3 1968.1H1921.8V2255.4H1483.9M1491.7 1966.75V2256.75" fill="none" stroke="#000" stroke-width="2.7" stroke-linecap="butt"/>
<path d="M1486.3 2229.28H1491.7M1483.9 2203.16H1491.7M1486.3 2177.05H1491.7M1483.9 2150.93H1491.7M1486.3 2124.81H1491.7M1483.9 2098.69H1491.7M1486.3 2072.57H1491.7M1483.9 2046.45H1491.7M1486.3 2020.34H1491.7M1483.9 1994.22H1491.7M1518.6 2255.4V2263.1M1572.35 2255.4V2263.1M1626.1 2255.4V2263.1M1679.85 2255.4V2263.1M1733.6 2255.4V2263.1M1787.35 2255.4V2263.1M1841.1 2255.4V2263.1M1894.85 2255.4V2263.1" fill="none" stroke="#000" stroke-width="2.5"/>
<circle cx="1506.3" cy="2250.18" r="5.4"/>
<circle cx="1518.6" cy="2247.83" r="5.4"/>
<circle cx="1530.9" cy="2248.87" r="5.4"/>
<circle cx="1560.05" cy="2250.7" r="5.4"/>
<circle cx="1572.35" cy="2247.83" r="5.4"/>
<circle cx="1584.65" cy="2249.39" r="5.4"/>
<circle cx="1613.8" cy="2252.27" r="5.4"/>
<circle cx="1626.1" cy="2247.83" r="5.4"/>
<circle cx="1638.4" cy="2252" r="5.4"/>
<circle cx="1667.55" cy="2250.18" r="5.4"/>
<circle cx="1679.85" cy="2248.61" r="5.4"/>
<circle cx="1692.15" cy="2249.65" r="5.4"/>
<circle cx="1721.3" cy="2253.31" r="5.4"/>
<circle cx="1733.6" cy="2249.39" r="5.4"/>
<circle cx="1745.9" cy="2251.22" r="5.4"/>
<circle cx="1775.05" cy="2001.01" r="5.4"/>
<circle cx="1787.35" cy="1999.96" r="5.4"/>
<circle cx="1799.65" cy="2000.75" r="5.4"/>
<circle cx="1828.8" cy="2002.31" r="5.4"/>
<circle cx="1841.1" cy="1998.4" r="5.4"/>
<circle cx="1853.4" cy="2000.49" r="5.4"/>
<circle cx="1882.55" cy="2000.75" r="5.4"/>
<circle cx="1894.85" cy="1994.74" r="5.4"/>
<circle cx="1907.15" cy="1999.44" r="5.4"/>
<text font-size="21" font-weight="bold" text-anchor="end" transform="translate(1481.4 2262.4) scale(1 1.04)">0</text>
<text font-size="21" font-weight="bold" text-anchor="end" transform="translate(1481.4 2210.16) scale(1 1.04)">20</text>
<text font-size="21" font-weight="bold" text-anchor="end" transform="translate(1481.4 2157.93) scale(1 1.04)">40</text>
<text font-size="21" font-weight="bold" text-anchor="end" transform="translate(1481.4 2105.69) scale(1 1.04)">60</text>
<text font-size="21" font-weight="bold" text-anchor="end" transform="translate(1481.4 2053.45) scale(1 1.04)">80</text>
<text font-size="21" font-weight="bold" text-anchor="end" transform="translate(1481.4 2001.22) scale(1 1.04)">100</text>
<text font-size="22.5" font-weight="bold" text-anchor="end" transform="translate(1525.8 2279.4) rotate(-45) scale(1 1.04)" stroke="#000" stroke-width="0.7" stroke-linejoin="round">N</text>
<text font-size="22.5" font-weight="bold" text-anchor="end" transform="translate(1579.55 2279.4) rotate(-45) scale(1 1.04)" stroke="#000" stroke-width="0.7" stroke-linejoin="round">A</text>
<text font-size="22.5" font-weight="bold" text-anchor="end" transform="translate(1633.3 2279.4) rotate(-45) scale(1 1.04)" stroke="#000" stroke-width="0.7" stroke-linejoin="round">S</text>
<text font-size="22.5" font-weight="bold" text-anchor="end" transform="translate(1687.05 2279.4) rotate(-45) scale(1 1.04)" stroke="#000" stroke-width="0.7" stroke-linejoin="round">T</text>
<text font-size="22.5" font-weight="bold" text-anchor="end" transform="translate(1740.8 2279.4) rotate(-45) scale(1 1.04)" stroke="#000" stroke-width="0.7" stroke-linejoin="round">AS</text>
<text font-size="22.5" font-weight="bold" text-anchor="end" transform="translate(1794.55 2279.4) rotate(-45) scale(1 1.04)" stroke="#000" stroke-width="0.7" stroke-linejoin="round">AT</text>
<text font-size="22.5" font-weight="bold" text-anchor="end" transform="translate(1848.3 2279.4) rotate(-45) scale(1 1.04)" stroke="#000" stroke-width="0.7" stroke-linejoin="round">ST</text>
<text font-size="22.5" font-weight="bold" text-anchor="end" transform="translate(1902.05 2279.4) rotate(-45) scale(1 1.04)" stroke="#000" stroke-width="0.7" stroke-linejoin="round">AST</text>
<text font-size="26" font-weight="normal" text-anchor="middle" transform="translate(1706.75 1958.1) scale(1 1.04)">T<tspan font-family="DejaVu Sans, sans-serif" font-size="20" dy="-2" dx="-0.7" textLength="17.13" lengthAdjust="spacingAndGlyphs">∧</tspan><tspan dy="2" dx="-0.7">(A</tspan><tspan font-family="DejaVu Sans, sans-serif" font-size="20" dx="-0.7" textLength="17.13" lengthAdjust="spacingAndGlyphs">∨</tspan><tspan dx="-0.7">S)</tspan></text>
<path d="M445.3 2632.43V2627.75M436 2627.75H454.6" stroke="#000" stroke-width="2" fill="none"/>
<rect x="428.8" y="2632.43" width="33" height="4.17" fill="#EE6A5B" stroke="#000" stroke-width="2.7"/>
<rect x="482.55" y="2384.05" width="33" height="252.55" fill="#93CA60" stroke="#000" stroke-width="2.7"/>
<rect x="536.3" y="2386.65" width="33" height="249.95" fill="#93CA60" stroke="#000" stroke-width="2.7"/>
<rect x="590.05" y="2384.05" width="33" height="252.55" fill="#93CA60" stroke="#000" stroke-width="2.7"/>
<rect x="643.8" y="2385.09" width="33" height="251.51" fill="#93CA60" stroke="#000" stroke-width="2.7"/>
<rect x="697.55" y="2384.05" width="33" height="252.55" fill="#93CA60" stroke="#000" stroke-width="2.7"/>
<rect x="751.3" y="2385.09" width="33" height="251.51" fill="#93CA60" stroke="#000" stroke-width="2.7"/>
<rect x="805.05" y="2383.01" width="33" height="253.59" fill="#93CA60" stroke="#000" stroke-width="2.7"/>
<path d="M413 2350.2H848.5V2636.6H410.6M418.4 2348.7V2638.1" fill="none" stroke="#000" stroke-width="3" stroke-linecap="butt"/>
<path d="M413 2610.56H418.4M410.6 2584.53H418.4M413 2558.49H418.4M410.6 2532.45H418.4M413 2506.42H418.4M410.6 2480.38H418.4M413 2454.35H418.4M410.6 2428.31H418.4M413 2402.27H418.4M410.6 2376.24H418.4M445.3 2636.6V2644.3M499.05 2636.6V2644.3M552.8 2636.6V2644.3M606.55 2636.6V2644.3M660.3 2636.6V2644.3M714.05 2636.6V2644.3M767.8 2636.6V2644.3M821.55 2636.6V2644.3" fill="none" stroke="#000" stroke-width="2.8"/>
<circle cx="433" cy="2635.04" r="5.4"/>
<circle cx="445.3" cy="2626.19" r="5.4"/>
<circle cx="457.6" cy="2634" r="5.4"/>
<circle cx="486.75" cy="2386.65" r="5.4"/>
<circle cx="499.05" cy="2378.84" r="5.4"/>
<circle cx="511.35" cy="2384.05" r="5.4"/>
<circle cx="540.5" cy="2389.25" r="5.4"/>
<circle cx="552.8" cy="2381.96" r="5.4"/>
<circle cx="565.1" cy="2386.65" r="5.4"/>
<circle cx="594.25" cy="2386.65" r="5.4"/>
<circle cx="606.55" cy="2380.4" r="5.4"/>
<circle cx="618.85" cy="2384.05" r="5.4"/>
<circle cx="648" cy="2386.65" r="5.4"/>
<circle cx="660.3" cy="2381.96" r="5.4"/>
<circle cx="672.6" cy="2384.05" r="5.4"/>
<circle cx="701.75" cy="2385.61" r="5.4"/>
<circle cx="714.05" cy="2380.4" r="5.4"/>
<circle cx="726.35" cy="2384.05" r="5.4"/>
<circle cx="755.5" cy="2387.69" r="5.4"/>
<circle cx="767.8" cy="2381.96" r="5.4"/>
<circle cx="780.1" cy="2382.49" r="5.4"/>
<circle cx="809.25" cy="2385.09" r="5.4"/>
<circle cx="821.55" cy="2380.92" r="5.4"/>
<circle cx="833.85" cy="2383.53" r="5.4"/>
<text font-size="21" font-weight="bold" text-anchor="end" transform="translate(408.1 2643.6) scale(1 1.04)">0</text>
<text font-size="21" font-weight="bold" text-anchor="end" transform="translate(408.1 2591.53) scale(1 1.04)">20</text>
<text font-size="21" font-weight="bold" text-anchor="end" transform="translate(408.1 2539.45) scale(1 1.04)">40</text>
<text font-size="21" font-weight="bold" text-anchor="end" transform="translate(408.1 2487.38) scale(1 1.04)">60</text>
<text font-size="21" font-weight="bold" text-anchor="end" transform="translate(408.1 2435.31) scale(1 1.04)">80</text>
<text font-size="21" font-weight="bold" text-anchor="end" transform="translate(408.1 2383.24) scale(1 1.04)">100</text>
<text font-size="22.5" font-weight="bold" text-anchor="end" transform="translate(452.5 2660.6) rotate(-45) scale(1 1.04)" stroke="#000" stroke-width="0.7" stroke-linejoin="round">N</text>
<text font-size="22.5" font-weight="bold" text-anchor="end" transform="translate(506.25 2660.6) rotate(-45) scale(1 1.04)" stroke="#000" stroke-width="0.7" stroke-linejoin="round">A</text>
<text font-size="22.5" font-weight="bold" text-anchor="end" transform="translate(560 2660.6) rotate(-45) scale(1 1.04)" stroke="#000" stroke-width="0.7" stroke-linejoin="round">S</text>
<text font-size="22.5" font-weight="bold" text-anchor="end" transform="translate(613.75 2660.6) rotate(-45) scale(1 1.04)" stroke="#000" stroke-width="0.7" stroke-linejoin="round">T</text>
<text font-size="22.5" font-weight="bold" text-anchor="end" transform="translate(667.5 2660.6) rotate(-45) scale(1 1.04)" stroke="#000" stroke-width="0.7" stroke-linejoin="round">AS</text>
<text font-size="22.5" font-weight="bold" text-anchor="end" transform="translate(721.25 2660.6) rotate(-45) scale(1 1.04)" stroke="#000" stroke-width="0.7" stroke-linejoin="round">AT</text>
<text font-size="22.5" font-weight="bold" text-anchor="end" transform="translate(775 2660.6) rotate(-45) scale(1 1.04)" stroke="#000" stroke-width="0.7" stroke-linejoin="round">ST</text>
<text font-size="22.5" font-weight="bold" text-anchor="end" transform="translate(828.75 2660.6) rotate(-45) scale(1 1.04)" stroke="#000" stroke-width="0.7" stroke-linejoin="round">AST</text>
<text font-size="26" font-weight="normal" text-anchor="middle" transform="translate(633.45 2339) scale(1 1.04)">A<tspan font-family="DejaVu Sans, sans-serif" font-size="17.5" dx="-0.7" textLength="14.99" lengthAdjust="spacingAndGlyphs">∨</tspan><tspan dx="-0.7">S</tspan><tspan font-family="DejaVu Sans, sans-serif" font-size="17.5" dx="-0.7" textLength="14.99" lengthAdjust="spacingAndGlyphs">∨</tspan><tspan dx="-0.7">T</tspan></text>
<text font-size="30.8" font-weight="normal" text-anchor="start" transform="translate(352.4 2671) rotate(-90) scale(1 1.04)">Normalized release (%)</text>
</svg>
</body></html>
